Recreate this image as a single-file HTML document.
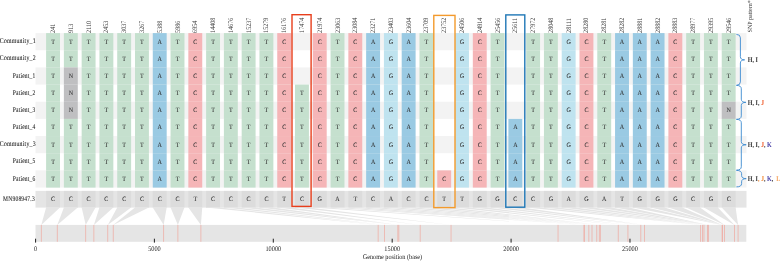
<!DOCTYPE html><html><head><meta charset="utf-8"><style>html,body{margin:0;padding:0;background:#fff;width:780px;height:261px;overflow:hidden}svg{display:block;will-change:transform}text{font-family:"Liberation Serif",serif;text-rendering:geometricPrecision}</style></head><body><svg width="780" height="261" viewBox="0 0 780 261" font-family="Liberation Serif, serif">
<rect x="0" y="0" width="780" height="261" fill="#ffffff"/>
<rect x="35.5" y="33.10" width="711.00" height="17.16" fill="#f3f3f3"/>
<rect x="35.5" y="67.42" width="711.00" height="17.16" fill="#f3f3f3"/>
<rect x="35.5" y="101.74" width="711.00" height="17.16" fill="#f3f3f3"/>
<rect x="35.5" y="136.06" width="711.00" height="17.16" fill="#f3f3f3"/>
<rect x="35.5" y="170.38" width="711.00" height="17.16" fill="#f3f3f3"/>
<rect x="46.10" y="33.10" width="13.9" height="17.21" fill="#c5e0ce"/>
<rect x="46.10" y="50.26" width="13.9" height="17.21" fill="#c5e0ce"/>
<rect x="46.10" y="67.42" width="13.9" height="17.21" fill="#c5e0ce"/>
<rect x="46.10" y="84.58" width="13.9" height="17.21" fill="#c5e0ce"/>
<rect x="46.10" y="101.74" width="13.9" height="17.21" fill="#c5e0ce"/>
<rect x="46.10" y="118.90" width="13.9" height="17.21" fill="#c5e0ce"/>
<rect x="46.10" y="136.06" width="13.9" height="17.21" fill="#c5e0ce"/>
<rect x="46.10" y="153.22" width="13.9" height="17.21" fill="#c5e0ce"/>
<rect x="46.10" y="170.38" width="13.9" height="17.21" fill="#c5e0ce"/>
<rect x="63.88" y="33.10" width="13.9" height="17.21" fill="#c5e0ce"/>
<rect x="63.88" y="50.26" width="13.9" height="17.21" fill="#c5e0ce"/>
<rect x="63.88" y="67.42" width="13.9" height="17.21" fill="#bfbfc1"/>
<rect x="63.88" y="84.58" width="13.9" height="17.21" fill="#bfbfc1"/>
<rect x="63.88" y="101.74" width="13.9" height="17.21" fill="#bfbfc1"/>
<rect x="63.88" y="118.90" width="13.9" height="17.21" fill="#c5e0ce"/>
<rect x="63.88" y="136.06" width="13.9" height="17.21" fill="#c5e0ce"/>
<rect x="63.88" y="153.22" width="13.9" height="17.21" fill="#c5e0ce"/>
<rect x="63.88" y="170.38" width="13.9" height="17.21" fill="#c5e0ce"/>
<rect x="81.66" y="33.10" width="13.9" height="17.21" fill="#c5e0ce"/>
<rect x="81.66" y="50.26" width="13.9" height="17.21" fill="#c5e0ce"/>
<rect x="81.66" y="67.42" width="13.9" height="17.21" fill="#c5e0ce"/>
<rect x="81.66" y="84.58" width="13.9" height="17.21" fill="#c5e0ce"/>
<rect x="81.66" y="101.74" width="13.9" height="17.21" fill="#c5e0ce"/>
<rect x="81.66" y="118.90" width="13.9" height="17.21" fill="#c5e0ce"/>
<rect x="81.66" y="136.06" width="13.9" height="17.21" fill="#c5e0ce"/>
<rect x="81.66" y="153.22" width="13.9" height="17.21" fill="#c5e0ce"/>
<rect x="81.66" y="170.38" width="13.9" height="17.21" fill="#c5e0ce"/>
<rect x="99.44" y="33.10" width="13.9" height="17.21" fill="#c5e0ce"/>
<rect x="99.44" y="50.26" width="13.9" height="17.21" fill="#c5e0ce"/>
<rect x="99.44" y="67.42" width="13.9" height="17.21" fill="#c5e0ce"/>
<rect x="99.44" y="84.58" width="13.9" height="17.21" fill="#c5e0ce"/>
<rect x="99.44" y="101.74" width="13.9" height="17.21" fill="#c5e0ce"/>
<rect x="99.44" y="118.90" width="13.9" height="17.21" fill="#c5e0ce"/>
<rect x="99.44" y="136.06" width="13.9" height="17.21" fill="#c5e0ce"/>
<rect x="99.44" y="153.22" width="13.9" height="17.21" fill="#c5e0ce"/>
<rect x="99.44" y="170.38" width="13.9" height="17.21" fill="#c5e0ce"/>
<rect x="117.22" y="33.10" width="13.9" height="17.21" fill="#c5e0ce"/>
<rect x="117.22" y="50.26" width="13.9" height="17.21" fill="#c5e0ce"/>
<rect x="117.22" y="67.42" width="13.9" height="17.21" fill="#c5e0ce"/>
<rect x="117.22" y="84.58" width="13.9" height="17.21" fill="#c5e0ce"/>
<rect x="117.22" y="101.74" width="13.9" height="17.21" fill="#c5e0ce"/>
<rect x="117.22" y="118.90" width="13.9" height="17.21" fill="#c5e0ce"/>
<rect x="117.22" y="136.06" width="13.9" height="17.21" fill="#c5e0ce"/>
<rect x="117.22" y="153.22" width="13.9" height="17.21" fill="#c5e0ce"/>
<rect x="117.22" y="170.38" width="13.9" height="17.21" fill="#c5e0ce"/>
<rect x="135.00" y="33.10" width="13.9" height="17.21" fill="#c5e0ce"/>
<rect x="135.00" y="50.26" width="13.9" height="17.21" fill="#c5e0ce"/>
<rect x="135.00" y="67.42" width="13.9" height="17.21" fill="#c5e0ce"/>
<rect x="135.00" y="84.58" width="13.9" height="17.21" fill="#c5e0ce"/>
<rect x="135.00" y="101.74" width="13.9" height="17.21" fill="#c5e0ce"/>
<rect x="135.00" y="118.90" width="13.9" height="17.21" fill="#c5e0ce"/>
<rect x="135.00" y="136.06" width="13.9" height="17.21" fill="#c5e0ce"/>
<rect x="135.00" y="153.22" width="13.9" height="17.21" fill="#c5e0ce"/>
<rect x="135.00" y="170.38" width="13.9" height="17.21" fill="#c5e0ce"/>
<rect x="152.78" y="33.10" width="13.9" height="17.21" fill="#9acae3"/>
<rect x="152.78" y="50.26" width="13.9" height="17.21" fill="#9acae3"/>
<rect x="152.78" y="67.42" width="13.9" height="17.21" fill="#9acae3"/>
<rect x="152.78" y="84.58" width="13.9" height="17.21" fill="#9acae3"/>
<rect x="152.78" y="101.74" width="13.9" height="17.21" fill="#9acae3"/>
<rect x="152.78" y="118.90" width="13.9" height="17.21" fill="#9acae3"/>
<rect x="152.78" y="136.06" width="13.9" height="17.21" fill="#9acae3"/>
<rect x="152.78" y="153.22" width="13.9" height="17.21" fill="#9acae3"/>
<rect x="152.78" y="170.38" width="13.9" height="17.21" fill="#9acae3"/>
<rect x="170.56" y="33.10" width="13.9" height="17.21" fill="#c5e0ce"/>
<rect x="170.56" y="50.26" width="13.9" height="17.21" fill="#c5e0ce"/>
<rect x="170.56" y="67.42" width="13.9" height="17.21" fill="#c5e0ce"/>
<rect x="170.56" y="84.58" width="13.9" height="17.21" fill="#c5e0ce"/>
<rect x="170.56" y="101.74" width="13.9" height="17.21" fill="#c5e0ce"/>
<rect x="170.56" y="118.90" width="13.9" height="17.21" fill="#c5e0ce"/>
<rect x="170.56" y="136.06" width="13.9" height="17.21" fill="#c5e0ce"/>
<rect x="170.56" y="153.22" width="13.9" height="17.21" fill="#c5e0ce"/>
<rect x="170.56" y="170.38" width="13.9" height="17.21" fill="#c5e0ce"/>
<rect x="188.34" y="33.10" width="13.9" height="17.21" fill="#f5b5b7"/>
<rect x="188.34" y="50.26" width="13.9" height="17.21" fill="#f5b5b7"/>
<rect x="188.34" y="67.42" width="13.9" height="17.21" fill="#f5b5b7"/>
<rect x="188.34" y="84.58" width="13.9" height="17.21" fill="#f5b5b7"/>
<rect x="188.34" y="101.74" width="13.9" height="17.21" fill="#f5b5b7"/>
<rect x="188.34" y="118.90" width="13.9" height="17.21" fill="#f5b5b7"/>
<rect x="188.34" y="136.06" width="13.9" height="17.21" fill="#f5b5b7"/>
<rect x="188.34" y="153.22" width="13.9" height="17.21" fill="#f5b5b7"/>
<rect x="188.34" y="170.38" width="13.9" height="17.21" fill="#f5b5b7"/>
<rect x="206.12" y="33.10" width="13.9" height="17.21" fill="#c5e0ce"/>
<rect x="206.12" y="50.26" width="13.9" height="17.21" fill="#c5e0ce"/>
<rect x="206.12" y="67.42" width="13.9" height="17.21" fill="#c5e0ce"/>
<rect x="206.12" y="84.58" width="13.9" height="17.21" fill="#c5e0ce"/>
<rect x="206.12" y="101.74" width="13.9" height="17.21" fill="#c5e0ce"/>
<rect x="206.12" y="118.90" width="13.9" height="17.21" fill="#c5e0ce"/>
<rect x="206.12" y="136.06" width="13.9" height="17.21" fill="#c5e0ce"/>
<rect x="206.12" y="153.22" width="13.9" height="17.21" fill="#c5e0ce"/>
<rect x="206.12" y="170.38" width="13.9" height="17.21" fill="#c5e0ce"/>
<rect x="223.90" y="33.10" width="13.9" height="17.21" fill="#c5e0ce"/>
<rect x="223.90" y="50.26" width="13.9" height="17.21" fill="#c5e0ce"/>
<rect x="223.90" y="67.42" width="13.9" height="17.21" fill="#c5e0ce"/>
<rect x="223.90" y="84.58" width="13.9" height="17.21" fill="#c5e0ce"/>
<rect x="223.90" y="101.74" width="13.9" height="17.21" fill="#c5e0ce"/>
<rect x="223.90" y="118.90" width="13.9" height="17.21" fill="#c5e0ce"/>
<rect x="223.90" y="136.06" width="13.9" height="17.21" fill="#c5e0ce"/>
<rect x="223.90" y="153.22" width="13.9" height="17.21" fill="#c5e0ce"/>
<rect x="223.90" y="170.38" width="13.9" height="17.21" fill="#c5e0ce"/>
<rect x="241.68" y="33.10" width="13.9" height="17.21" fill="#c5e0ce"/>
<rect x="241.68" y="50.26" width="13.9" height="17.21" fill="#c5e0ce"/>
<rect x="241.68" y="67.42" width="13.9" height="17.21" fill="#c5e0ce"/>
<rect x="241.68" y="84.58" width="13.9" height="17.21" fill="#c5e0ce"/>
<rect x="241.68" y="101.74" width="13.9" height="17.21" fill="#c5e0ce"/>
<rect x="241.68" y="118.90" width="13.9" height="17.21" fill="#c5e0ce"/>
<rect x="241.68" y="136.06" width="13.9" height="17.21" fill="#c5e0ce"/>
<rect x="241.68" y="153.22" width="13.9" height="17.21" fill="#c5e0ce"/>
<rect x="241.68" y="170.38" width="13.9" height="17.21" fill="#c5e0ce"/>
<rect x="259.46" y="33.10" width="13.9" height="17.21" fill="#c5e0ce"/>
<rect x="259.46" y="50.26" width="13.9" height="17.21" fill="#c5e0ce"/>
<rect x="259.46" y="67.42" width="13.9" height="17.21" fill="#c5e0ce"/>
<rect x="259.46" y="84.58" width="13.9" height="17.21" fill="#c5e0ce"/>
<rect x="259.46" y="101.74" width="13.9" height="17.21" fill="#c5e0ce"/>
<rect x="259.46" y="118.90" width="13.9" height="17.21" fill="#c5e0ce"/>
<rect x="259.46" y="136.06" width="13.9" height="17.21" fill="#c5e0ce"/>
<rect x="259.46" y="153.22" width="13.9" height="17.21" fill="#c5e0ce"/>
<rect x="259.46" y="170.38" width="13.9" height="17.21" fill="#c5e0ce"/>
<rect x="277.24" y="33.10" width="13.9" height="17.21" fill="#f5b5b7"/>
<rect x="277.24" y="50.26" width="13.9" height="17.21" fill="#f5b5b7"/>
<rect x="277.24" y="67.42" width="13.9" height="17.21" fill="#f5b5b7"/>
<rect x="277.24" y="84.58" width="13.9" height="17.21" fill="#f5b5b7"/>
<rect x="277.24" y="101.74" width="13.9" height="17.21" fill="#f5b5b7"/>
<rect x="277.24" y="118.90" width="13.9" height="17.21" fill="#f5b5b7"/>
<rect x="277.24" y="136.06" width="13.9" height="17.21" fill="#f5b5b7"/>
<rect x="277.24" y="153.22" width="13.9" height="17.21" fill="#f5b5b7"/>
<rect x="277.24" y="170.38" width="13.9" height="17.21" fill="#f5b5b7"/>
<rect x="295.02" y="84.58" width="13.9" height="17.21" fill="#c5e0ce"/>
<rect x="295.02" y="101.74" width="13.9" height="17.21" fill="#c5e0ce"/>
<rect x="295.02" y="118.90" width="13.9" height="17.21" fill="#c5e0ce"/>
<rect x="295.02" y="136.06" width="13.9" height="17.21" fill="#c5e0ce"/>
<rect x="295.02" y="153.22" width="13.9" height="17.21" fill="#c5e0ce"/>
<rect x="295.02" y="170.38" width="13.9" height="17.21" fill="#c5e0ce"/>
<rect x="312.80" y="33.10" width="13.9" height="17.21" fill="#f5b5b7"/>
<rect x="312.80" y="50.26" width="13.9" height="17.21" fill="#f5b5b7"/>
<rect x="312.80" y="67.42" width="13.9" height="17.21" fill="#f5b5b7"/>
<rect x="312.80" y="84.58" width="13.9" height="17.21" fill="#f5b5b7"/>
<rect x="312.80" y="101.74" width="13.9" height="17.21" fill="#f5b5b7"/>
<rect x="312.80" y="118.90" width="13.9" height="17.21" fill="#f5b5b7"/>
<rect x="312.80" y="136.06" width="13.9" height="17.21" fill="#f5b5b7"/>
<rect x="312.80" y="153.22" width="13.9" height="17.21" fill="#f5b5b7"/>
<rect x="312.80" y="170.38" width="13.9" height="17.21" fill="#f5b5b7"/>
<rect x="330.58" y="33.10" width="13.9" height="17.21" fill="#c5e0ce"/>
<rect x="330.58" y="50.26" width="13.9" height="17.21" fill="#c5e0ce"/>
<rect x="330.58" y="67.42" width="13.9" height="17.21" fill="#c5e0ce"/>
<rect x="330.58" y="84.58" width="13.9" height="17.21" fill="#c5e0ce"/>
<rect x="330.58" y="101.74" width="13.9" height="17.21" fill="#c5e0ce"/>
<rect x="330.58" y="118.90" width="13.9" height="17.21" fill="#c5e0ce"/>
<rect x="330.58" y="136.06" width="13.9" height="17.21" fill="#c5e0ce"/>
<rect x="330.58" y="153.22" width="13.9" height="17.21" fill="#c5e0ce"/>
<rect x="330.58" y="170.38" width="13.9" height="17.21" fill="#c5e0ce"/>
<rect x="348.36" y="33.10" width="13.9" height="17.21" fill="#f5b5b7"/>
<rect x="348.36" y="50.26" width="13.9" height="17.21" fill="#f5b5b7"/>
<rect x="348.36" y="67.42" width="13.9" height="17.21" fill="#f5b5b7"/>
<rect x="348.36" y="84.58" width="13.9" height="17.21" fill="#f5b5b7"/>
<rect x="348.36" y="101.74" width="13.9" height="17.21" fill="#f5b5b7"/>
<rect x="348.36" y="118.90" width="13.9" height="17.21" fill="#f5b5b7"/>
<rect x="348.36" y="136.06" width="13.9" height="17.21" fill="#f5b5b7"/>
<rect x="348.36" y="153.22" width="13.9" height="17.21" fill="#f5b5b7"/>
<rect x="348.36" y="170.38" width="13.9" height="17.21" fill="#f5b5b7"/>
<rect x="366.14" y="33.10" width="13.9" height="17.21" fill="#9acae3"/>
<rect x="366.14" y="50.26" width="13.9" height="17.21" fill="#9acae3"/>
<rect x="366.14" y="67.42" width="13.9" height="17.21" fill="#9acae3"/>
<rect x="366.14" y="84.58" width="13.9" height="17.21" fill="#9acae3"/>
<rect x="366.14" y="101.74" width="13.9" height="17.21" fill="#9acae3"/>
<rect x="366.14" y="118.90" width="13.9" height="17.21" fill="#9acae3"/>
<rect x="366.14" y="136.06" width="13.9" height="17.21" fill="#9acae3"/>
<rect x="366.14" y="153.22" width="13.9" height="17.21" fill="#9acae3"/>
<rect x="366.14" y="170.38" width="13.9" height="17.21" fill="#9acae3"/>
<rect x="383.92" y="33.10" width="13.9" height="17.21" fill="#bfe3ef"/>
<rect x="383.92" y="50.26" width="13.9" height="17.21" fill="#bfe3ef"/>
<rect x="383.92" y="67.42" width="13.9" height="17.21" fill="#bfe3ef"/>
<rect x="383.92" y="84.58" width="13.9" height="17.21" fill="#bfe3ef"/>
<rect x="383.92" y="101.74" width="13.9" height="17.21" fill="#bfe3ef"/>
<rect x="383.92" y="118.90" width="13.9" height="17.21" fill="#bfe3ef"/>
<rect x="383.92" y="136.06" width="13.9" height="17.21" fill="#bfe3ef"/>
<rect x="383.92" y="153.22" width="13.9" height="17.21" fill="#bfe3ef"/>
<rect x="383.92" y="170.38" width="13.9" height="17.21" fill="#bfe3ef"/>
<rect x="401.70" y="33.10" width="13.9" height="17.21" fill="#9acae3"/>
<rect x="401.70" y="50.26" width="13.9" height="17.21" fill="#9acae3"/>
<rect x="401.70" y="67.42" width="13.9" height="17.21" fill="#9acae3"/>
<rect x="401.70" y="84.58" width="13.9" height="17.21" fill="#9acae3"/>
<rect x="401.70" y="101.74" width="13.9" height="17.21" fill="#9acae3"/>
<rect x="401.70" y="118.90" width="13.9" height="17.21" fill="#9acae3"/>
<rect x="401.70" y="136.06" width="13.9" height="17.21" fill="#9acae3"/>
<rect x="401.70" y="153.22" width="13.9" height="17.21" fill="#9acae3"/>
<rect x="401.70" y="170.38" width="13.9" height="17.21" fill="#9acae3"/>
<rect x="419.48" y="33.10" width="13.9" height="17.21" fill="#c5e0ce"/>
<rect x="419.48" y="50.26" width="13.9" height="17.21" fill="#c5e0ce"/>
<rect x="419.48" y="67.42" width="13.9" height="17.21" fill="#c5e0ce"/>
<rect x="419.48" y="84.58" width="13.9" height="17.21" fill="#c5e0ce"/>
<rect x="419.48" y="101.74" width="13.9" height="17.21" fill="#c5e0ce"/>
<rect x="419.48" y="118.90" width="13.9" height="17.21" fill="#c5e0ce"/>
<rect x="419.48" y="136.06" width="13.9" height="17.21" fill="#c5e0ce"/>
<rect x="419.48" y="153.22" width="13.9" height="17.21" fill="#c5e0ce"/>
<rect x="419.48" y="170.38" width="13.9" height="17.21" fill="#c5e0ce"/>
<rect x="437.26" y="170.38" width="13.9" height="17.21" fill="#f5b5b7"/>
<rect x="455.04" y="33.10" width="13.9" height="17.21" fill="#bfe3ef"/>
<rect x="455.04" y="50.26" width="13.9" height="17.21" fill="#bfe3ef"/>
<rect x="455.04" y="67.42" width="13.9" height="17.21" fill="#bfe3ef"/>
<rect x="455.04" y="84.58" width="13.9" height="17.21" fill="#bfe3ef"/>
<rect x="455.04" y="101.74" width="13.9" height="17.21" fill="#bfe3ef"/>
<rect x="455.04" y="118.90" width="13.9" height="17.21" fill="#bfe3ef"/>
<rect x="455.04" y="136.06" width="13.9" height="17.21" fill="#bfe3ef"/>
<rect x="455.04" y="153.22" width="13.9" height="17.21" fill="#bfe3ef"/>
<rect x="455.04" y="170.38" width="13.9" height="17.21" fill="#bfe3ef"/>
<rect x="472.82" y="33.10" width="13.9" height="17.21" fill="#f5b5b7"/>
<rect x="472.82" y="50.26" width="13.9" height="17.21" fill="#f5b5b7"/>
<rect x="472.82" y="67.42" width="13.9" height="17.21" fill="#f5b5b7"/>
<rect x="472.82" y="84.58" width="13.9" height="17.21" fill="#f5b5b7"/>
<rect x="472.82" y="101.74" width="13.9" height="17.21" fill="#f5b5b7"/>
<rect x="472.82" y="118.90" width="13.9" height="17.21" fill="#f5b5b7"/>
<rect x="472.82" y="136.06" width="13.9" height="17.21" fill="#f5b5b7"/>
<rect x="472.82" y="153.22" width="13.9" height="17.21" fill="#f5b5b7"/>
<rect x="472.82" y="170.38" width="13.9" height="17.21" fill="#f5b5b7"/>
<rect x="490.60" y="33.10" width="13.9" height="17.21" fill="#c5e0ce"/>
<rect x="490.60" y="50.26" width="13.9" height="17.21" fill="#c5e0ce"/>
<rect x="490.60" y="67.42" width="13.9" height="17.21" fill="#c5e0ce"/>
<rect x="490.60" y="84.58" width="13.9" height="17.21" fill="#c5e0ce"/>
<rect x="490.60" y="101.74" width="13.9" height="17.21" fill="#c5e0ce"/>
<rect x="490.60" y="118.90" width="13.9" height="17.21" fill="#c5e0ce"/>
<rect x="490.60" y="136.06" width="13.9" height="17.21" fill="#c5e0ce"/>
<rect x="490.60" y="153.22" width="13.9" height="17.21" fill="#c5e0ce"/>
<rect x="490.60" y="170.38" width="13.9" height="17.21" fill="#c5e0ce"/>
<rect x="508.38" y="118.90" width="13.9" height="17.21" fill="#9acae3"/>
<rect x="508.38" y="136.06" width="13.9" height="17.21" fill="#9acae3"/>
<rect x="508.38" y="153.22" width="13.9" height="17.21" fill="#9acae3"/>
<rect x="508.38" y="170.38" width="13.9" height="17.21" fill="#9acae3"/>
<rect x="526.16" y="33.10" width="13.9" height="17.21" fill="#c5e0ce"/>
<rect x="526.16" y="50.26" width="13.9" height="17.21" fill="#c5e0ce"/>
<rect x="526.16" y="67.42" width="13.9" height="17.21" fill="#c5e0ce"/>
<rect x="526.16" y="84.58" width="13.9" height="17.21" fill="#c5e0ce"/>
<rect x="526.16" y="101.74" width="13.9" height="17.21" fill="#c5e0ce"/>
<rect x="526.16" y="118.90" width="13.9" height="17.21" fill="#c5e0ce"/>
<rect x="526.16" y="136.06" width="13.9" height="17.21" fill="#c5e0ce"/>
<rect x="526.16" y="153.22" width="13.9" height="17.21" fill="#c5e0ce"/>
<rect x="526.16" y="170.38" width="13.9" height="17.21" fill="#c5e0ce"/>
<rect x="543.94" y="33.10" width="13.9" height="17.21" fill="#c5e0ce"/>
<rect x="543.94" y="50.26" width="13.9" height="17.21" fill="#c5e0ce"/>
<rect x="543.94" y="67.42" width="13.9" height="17.21" fill="#c5e0ce"/>
<rect x="543.94" y="84.58" width="13.9" height="17.21" fill="#c5e0ce"/>
<rect x="543.94" y="101.74" width="13.9" height="17.21" fill="#c5e0ce"/>
<rect x="543.94" y="118.90" width="13.9" height="17.21" fill="#c5e0ce"/>
<rect x="543.94" y="136.06" width="13.9" height="17.21" fill="#c5e0ce"/>
<rect x="543.94" y="153.22" width="13.9" height="17.21" fill="#c5e0ce"/>
<rect x="543.94" y="170.38" width="13.9" height="17.21" fill="#c5e0ce"/>
<rect x="561.72" y="33.10" width="13.9" height="17.21" fill="#bfe3ef"/>
<rect x="561.72" y="50.26" width="13.9" height="17.21" fill="#bfe3ef"/>
<rect x="561.72" y="67.42" width="13.9" height="17.21" fill="#bfe3ef"/>
<rect x="561.72" y="84.58" width="13.9" height="17.21" fill="#bfe3ef"/>
<rect x="561.72" y="101.74" width="13.9" height="17.21" fill="#bfe3ef"/>
<rect x="561.72" y="118.90" width="13.9" height="17.21" fill="#bfe3ef"/>
<rect x="561.72" y="136.06" width="13.9" height="17.21" fill="#bfe3ef"/>
<rect x="561.72" y="153.22" width="13.9" height="17.21" fill="#bfe3ef"/>
<rect x="561.72" y="170.38" width="13.9" height="17.21" fill="#bfe3ef"/>
<rect x="579.50" y="33.10" width="13.9" height="17.21" fill="#f5b5b7"/>
<rect x="579.50" y="50.26" width="13.9" height="17.21" fill="#f5b5b7"/>
<rect x="579.50" y="67.42" width="13.9" height="17.21" fill="#f5b5b7"/>
<rect x="579.50" y="84.58" width="13.9" height="17.21" fill="#f5b5b7"/>
<rect x="579.50" y="101.74" width="13.9" height="17.21" fill="#f5b5b7"/>
<rect x="579.50" y="118.90" width="13.9" height="17.21" fill="#f5b5b7"/>
<rect x="579.50" y="136.06" width="13.9" height="17.21" fill="#f5b5b7"/>
<rect x="579.50" y="153.22" width="13.9" height="17.21" fill="#f5b5b7"/>
<rect x="579.50" y="170.38" width="13.9" height="17.21" fill="#f5b5b7"/>
<rect x="597.28" y="33.10" width="13.9" height="17.21" fill="#c5e0ce"/>
<rect x="597.28" y="50.26" width="13.9" height="17.21" fill="#c5e0ce"/>
<rect x="597.28" y="67.42" width="13.9" height="17.21" fill="#c5e0ce"/>
<rect x="597.28" y="84.58" width="13.9" height="17.21" fill="#c5e0ce"/>
<rect x="597.28" y="101.74" width="13.9" height="17.21" fill="#c5e0ce"/>
<rect x="597.28" y="118.90" width="13.9" height="17.21" fill="#c5e0ce"/>
<rect x="597.28" y="136.06" width="13.9" height="17.21" fill="#c5e0ce"/>
<rect x="597.28" y="153.22" width="13.9" height="17.21" fill="#c5e0ce"/>
<rect x="597.28" y="170.38" width="13.9" height="17.21" fill="#c5e0ce"/>
<rect x="615.06" y="33.10" width="13.9" height="17.21" fill="#9acae3"/>
<rect x="615.06" y="50.26" width="13.9" height="17.21" fill="#9acae3"/>
<rect x="615.06" y="67.42" width="13.9" height="17.21" fill="#9acae3"/>
<rect x="615.06" y="84.58" width="13.9" height="17.21" fill="#9acae3"/>
<rect x="615.06" y="101.74" width="13.9" height="17.21" fill="#9acae3"/>
<rect x="615.06" y="118.90" width="13.9" height="17.21" fill="#9acae3"/>
<rect x="615.06" y="136.06" width="13.9" height="17.21" fill="#9acae3"/>
<rect x="615.06" y="153.22" width="13.9" height="17.21" fill="#9acae3"/>
<rect x="615.06" y="170.38" width="13.9" height="17.21" fill="#9acae3"/>
<rect x="632.84" y="33.10" width="13.9" height="17.21" fill="#9acae3"/>
<rect x="632.84" y="50.26" width="13.9" height="17.21" fill="#9acae3"/>
<rect x="632.84" y="67.42" width="13.9" height="17.21" fill="#9acae3"/>
<rect x="632.84" y="84.58" width="13.9" height="17.21" fill="#9acae3"/>
<rect x="632.84" y="101.74" width="13.9" height="17.21" fill="#9acae3"/>
<rect x="632.84" y="118.90" width="13.9" height="17.21" fill="#9acae3"/>
<rect x="632.84" y="136.06" width="13.9" height="17.21" fill="#9acae3"/>
<rect x="632.84" y="153.22" width="13.9" height="17.21" fill="#9acae3"/>
<rect x="632.84" y="170.38" width="13.9" height="17.21" fill="#9acae3"/>
<rect x="650.62" y="33.10" width="13.9" height="17.21" fill="#9acae3"/>
<rect x="650.62" y="50.26" width="13.9" height="17.21" fill="#9acae3"/>
<rect x="650.62" y="67.42" width="13.9" height="17.21" fill="#9acae3"/>
<rect x="650.62" y="84.58" width="13.9" height="17.21" fill="#9acae3"/>
<rect x="650.62" y="101.74" width="13.9" height="17.21" fill="#9acae3"/>
<rect x="650.62" y="118.90" width="13.9" height="17.21" fill="#9acae3"/>
<rect x="650.62" y="136.06" width="13.9" height="17.21" fill="#9acae3"/>
<rect x="650.62" y="153.22" width="13.9" height="17.21" fill="#9acae3"/>
<rect x="650.62" y="170.38" width="13.9" height="17.21" fill="#9acae3"/>
<rect x="668.40" y="33.10" width="13.9" height="17.21" fill="#f5b5b7"/>
<rect x="668.40" y="50.26" width="13.9" height="17.21" fill="#f5b5b7"/>
<rect x="668.40" y="67.42" width="13.9" height="17.21" fill="#f5b5b7"/>
<rect x="668.40" y="84.58" width="13.9" height="17.21" fill="#f5b5b7"/>
<rect x="668.40" y="101.74" width="13.9" height="17.21" fill="#f5b5b7"/>
<rect x="668.40" y="118.90" width="13.9" height="17.21" fill="#f5b5b7"/>
<rect x="668.40" y="136.06" width="13.9" height="17.21" fill="#f5b5b7"/>
<rect x="668.40" y="153.22" width="13.9" height="17.21" fill="#f5b5b7"/>
<rect x="668.40" y="170.38" width="13.9" height="17.21" fill="#f5b5b7"/>
<rect x="686.18" y="33.10" width="13.9" height="17.21" fill="#c5e0ce"/>
<rect x="686.18" y="50.26" width="13.9" height="17.21" fill="#c5e0ce"/>
<rect x="686.18" y="67.42" width="13.9" height="17.21" fill="#c5e0ce"/>
<rect x="686.18" y="84.58" width="13.9" height="17.21" fill="#c5e0ce"/>
<rect x="686.18" y="101.74" width="13.9" height="17.21" fill="#c5e0ce"/>
<rect x="686.18" y="118.90" width="13.9" height="17.21" fill="#c5e0ce"/>
<rect x="686.18" y="136.06" width="13.9" height="17.21" fill="#c5e0ce"/>
<rect x="686.18" y="153.22" width="13.9" height="17.21" fill="#c5e0ce"/>
<rect x="686.18" y="170.38" width="13.9" height="17.21" fill="#c5e0ce"/>
<rect x="703.96" y="33.10" width="13.9" height="17.21" fill="#c5e0ce"/>
<rect x="703.96" y="50.26" width="13.9" height="17.21" fill="#c5e0ce"/>
<rect x="703.96" y="67.42" width="13.9" height="17.21" fill="#c5e0ce"/>
<rect x="703.96" y="84.58" width="13.9" height="17.21" fill="#c5e0ce"/>
<rect x="703.96" y="101.74" width="13.9" height="17.21" fill="#c5e0ce"/>
<rect x="703.96" y="118.90" width="13.9" height="17.21" fill="#c5e0ce"/>
<rect x="703.96" y="136.06" width="13.9" height="17.21" fill="#c5e0ce"/>
<rect x="703.96" y="153.22" width="13.9" height="17.21" fill="#c5e0ce"/>
<rect x="703.96" y="170.38" width="13.9" height="17.21" fill="#c5e0ce"/>
<rect x="721.74" y="33.10" width="13.9" height="17.21" fill="#c5e0ce"/>
<rect x="721.74" y="50.26" width="13.9" height="17.21" fill="#c5e0ce"/>
<rect x="721.74" y="67.42" width="13.9" height="17.21" fill="#c5e0ce"/>
<rect x="721.74" y="84.58" width="13.9" height="17.21" fill="#c5e0ce"/>
<rect x="721.74" y="101.74" width="13.9" height="17.21" fill="#bfbfc1"/>
<rect x="721.74" y="118.90" width="13.9" height="17.21" fill="#c5e0ce"/>
<rect x="721.74" y="136.06" width="13.9" height="17.21" fill="#c5e0ce"/>
<rect x="721.74" y="153.22" width="13.9" height="17.21" fill="#c5e0ce"/>
<rect x="721.74" y="170.38" width="13.9" height="17.21" fill="#c5e0ce"/>
<text transform="translate(53.05,43.58) scale(0.92,1)" font-size="6.6" fill="#303030" text-anchor="middle" stroke="#303030" stroke-width="0.06">T</text>
<text transform="translate(53.05,60.74) scale(0.92,1)" font-size="6.6" fill="#303030" text-anchor="middle" stroke="#303030" stroke-width="0.06">T</text>
<text transform="translate(53.05,77.90) scale(0.92,1)" font-size="6.6" fill="#303030" text-anchor="middle" stroke="#303030" stroke-width="0.06">T</text>
<text transform="translate(53.05,95.06) scale(0.92,1)" font-size="6.6" fill="#303030" text-anchor="middle" stroke="#303030" stroke-width="0.06">T</text>
<text transform="translate(53.05,112.22) scale(0.92,1)" font-size="6.6" fill="#303030" text-anchor="middle" stroke="#303030" stroke-width="0.06">T</text>
<text transform="translate(53.05,129.38) scale(0.92,1)" font-size="6.6" fill="#303030" text-anchor="middle" stroke="#303030" stroke-width="0.06">T</text>
<text transform="translate(53.05,146.54) scale(0.92,1)" font-size="6.6" fill="#303030" text-anchor="middle" stroke="#303030" stroke-width="0.06">T</text>
<text transform="translate(53.05,163.70) scale(0.92,1)" font-size="6.6" fill="#303030" text-anchor="middle" stroke="#303030" stroke-width="0.06">T</text>
<text transform="translate(53.05,180.86) scale(0.92,1)" font-size="6.6" fill="#303030" text-anchor="middle" stroke="#303030" stroke-width="0.06">T</text>
<text transform="translate(70.83,43.58) scale(0.92,1)" font-size="6.6" fill="#303030" text-anchor="middle" stroke="#303030" stroke-width="0.06">T</text>
<text transform="translate(70.83,60.74) scale(0.92,1)" font-size="6.6" fill="#303030" text-anchor="middle" stroke="#303030" stroke-width="0.06">T</text>
<text transform="translate(70.83,77.90) scale(0.92,1)" font-size="6.6" fill="#303030" text-anchor="middle" stroke="#303030" stroke-width="0.06">N</text>
<text transform="translate(70.83,95.06) scale(0.92,1)" font-size="6.6" fill="#303030" text-anchor="middle" stroke="#303030" stroke-width="0.06">N</text>
<text transform="translate(70.83,112.22) scale(0.92,1)" font-size="6.6" fill="#303030" text-anchor="middle" stroke="#303030" stroke-width="0.06">N</text>
<text transform="translate(70.83,129.38) scale(0.92,1)" font-size="6.6" fill="#303030" text-anchor="middle" stroke="#303030" stroke-width="0.06">T</text>
<text transform="translate(70.83,146.54) scale(0.92,1)" font-size="6.6" fill="#303030" text-anchor="middle" stroke="#303030" stroke-width="0.06">T</text>
<text transform="translate(70.83,163.70) scale(0.92,1)" font-size="6.6" fill="#303030" text-anchor="middle" stroke="#303030" stroke-width="0.06">T</text>
<text transform="translate(70.83,180.86) scale(0.92,1)" font-size="6.6" fill="#303030" text-anchor="middle" stroke="#303030" stroke-width="0.06">T</text>
<text transform="translate(88.61,43.58) scale(0.92,1)" font-size="6.6" fill="#303030" text-anchor="middle" stroke="#303030" stroke-width="0.06">T</text>
<text transform="translate(88.61,60.74) scale(0.92,1)" font-size="6.6" fill="#303030" text-anchor="middle" stroke="#303030" stroke-width="0.06">T</text>
<text transform="translate(88.61,77.90) scale(0.92,1)" font-size="6.6" fill="#303030" text-anchor="middle" stroke="#303030" stroke-width="0.06">T</text>
<text transform="translate(88.61,95.06) scale(0.92,1)" font-size="6.6" fill="#303030" text-anchor="middle" stroke="#303030" stroke-width="0.06">T</text>
<text transform="translate(88.61,112.22) scale(0.92,1)" font-size="6.6" fill="#303030" text-anchor="middle" stroke="#303030" stroke-width="0.06">T</text>
<text transform="translate(88.61,129.38) scale(0.92,1)" font-size="6.6" fill="#303030" text-anchor="middle" stroke="#303030" stroke-width="0.06">T</text>
<text transform="translate(88.61,146.54) scale(0.92,1)" font-size="6.6" fill="#303030" text-anchor="middle" stroke="#303030" stroke-width="0.06">T</text>
<text transform="translate(88.61,163.70) scale(0.92,1)" font-size="6.6" fill="#303030" text-anchor="middle" stroke="#303030" stroke-width="0.06">T</text>
<text transform="translate(88.61,180.86) scale(0.92,1)" font-size="6.6" fill="#303030" text-anchor="middle" stroke="#303030" stroke-width="0.06">T</text>
<text transform="translate(106.39,43.58) scale(0.92,1)" font-size="6.6" fill="#303030" text-anchor="middle" stroke="#303030" stroke-width="0.06">T</text>
<text transform="translate(106.39,60.74) scale(0.92,1)" font-size="6.6" fill="#303030" text-anchor="middle" stroke="#303030" stroke-width="0.06">T</text>
<text transform="translate(106.39,77.90) scale(0.92,1)" font-size="6.6" fill="#303030" text-anchor="middle" stroke="#303030" stroke-width="0.06">T</text>
<text transform="translate(106.39,95.06) scale(0.92,1)" font-size="6.6" fill="#303030" text-anchor="middle" stroke="#303030" stroke-width="0.06">T</text>
<text transform="translate(106.39,112.22) scale(0.92,1)" font-size="6.6" fill="#303030" text-anchor="middle" stroke="#303030" stroke-width="0.06">T</text>
<text transform="translate(106.39,129.38) scale(0.92,1)" font-size="6.6" fill="#303030" text-anchor="middle" stroke="#303030" stroke-width="0.06">T</text>
<text transform="translate(106.39,146.54) scale(0.92,1)" font-size="6.6" fill="#303030" text-anchor="middle" stroke="#303030" stroke-width="0.06">T</text>
<text transform="translate(106.39,163.70) scale(0.92,1)" font-size="6.6" fill="#303030" text-anchor="middle" stroke="#303030" stroke-width="0.06">T</text>
<text transform="translate(106.39,180.86) scale(0.92,1)" font-size="6.6" fill="#303030" text-anchor="middle" stroke="#303030" stroke-width="0.06">T</text>
<text transform="translate(124.17,43.58) scale(0.92,1)" font-size="6.6" fill="#303030" text-anchor="middle" stroke="#303030" stroke-width="0.06">T</text>
<text transform="translate(124.17,60.74) scale(0.92,1)" font-size="6.6" fill="#303030" text-anchor="middle" stroke="#303030" stroke-width="0.06">T</text>
<text transform="translate(124.17,77.90) scale(0.92,1)" font-size="6.6" fill="#303030" text-anchor="middle" stroke="#303030" stroke-width="0.06">T</text>
<text transform="translate(124.17,95.06) scale(0.92,1)" font-size="6.6" fill="#303030" text-anchor="middle" stroke="#303030" stroke-width="0.06">T</text>
<text transform="translate(124.17,112.22) scale(0.92,1)" font-size="6.6" fill="#303030" text-anchor="middle" stroke="#303030" stroke-width="0.06">T</text>
<text transform="translate(124.17,129.38) scale(0.92,1)" font-size="6.6" fill="#303030" text-anchor="middle" stroke="#303030" stroke-width="0.06">T</text>
<text transform="translate(124.17,146.54) scale(0.92,1)" font-size="6.6" fill="#303030" text-anchor="middle" stroke="#303030" stroke-width="0.06">T</text>
<text transform="translate(124.17,163.70) scale(0.92,1)" font-size="6.6" fill="#303030" text-anchor="middle" stroke="#303030" stroke-width="0.06">T</text>
<text transform="translate(124.17,180.86) scale(0.92,1)" font-size="6.6" fill="#303030" text-anchor="middle" stroke="#303030" stroke-width="0.06">T</text>
<text transform="translate(141.95,43.58) scale(0.92,1)" font-size="6.6" fill="#303030" text-anchor="middle" stroke="#303030" stroke-width="0.06">T</text>
<text transform="translate(141.95,60.74) scale(0.92,1)" font-size="6.6" fill="#303030" text-anchor="middle" stroke="#303030" stroke-width="0.06">T</text>
<text transform="translate(141.95,77.90) scale(0.92,1)" font-size="6.6" fill="#303030" text-anchor="middle" stroke="#303030" stroke-width="0.06">T</text>
<text transform="translate(141.95,95.06) scale(0.92,1)" font-size="6.6" fill="#303030" text-anchor="middle" stroke="#303030" stroke-width="0.06">T</text>
<text transform="translate(141.95,112.22) scale(0.92,1)" font-size="6.6" fill="#303030" text-anchor="middle" stroke="#303030" stroke-width="0.06">T</text>
<text transform="translate(141.95,129.38) scale(0.92,1)" font-size="6.6" fill="#303030" text-anchor="middle" stroke="#303030" stroke-width="0.06">T</text>
<text transform="translate(141.95,146.54) scale(0.92,1)" font-size="6.6" fill="#303030" text-anchor="middle" stroke="#303030" stroke-width="0.06">T</text>
<text transform="translate(141.95,163.70) scale(0.92,1)" font-size="6.6" fill="#303030" text-anchor="middle" stroke="#303030" stroke-width="0.06">T</text>
<text transform="translate(141.95,180.86) scale(0.92,1)" font-size="6.6" fill="#303030" text-anchor="middle" stroke="#303030" stroke-width="0.06">T</text>
<text transform="translate(159.73,43.58) scale(0.92,1)" font-size="6.6" fill="#303030" text-anchor="middle" stroke="#303030" stroke-width="0.06">A</text>
<text transform="translate(159.73,60.74) scale(0.92,1)" font-size="6.6" fill="#303030" text-anchor="middle" stroke="#303030" stroke-width="0.06">A</text>
<text transform="translate(159.73,77.90) scale(0.92,1)" font-size="6.6" fill="#303030" text-anchor="middle" stroke="#303030" stroke-width="0.06">A</text>
<text transform="translate(159.73,95.06) scale(0.92,1)" font-size="6.6" fill="#303030" text-anchor="middle" stroke="#303030" stroke-width="0.06">A</text>
<text transform="translate(159.73,112.22) scale(0.92,1)" font-size="6.6" fill="#303030" text-anchor="middle" stroke="#303030" stroke-width="0.06">A</text>
<text transform="translate(159.73,129.38) scale(0.92,1)" font-size="6.6" fill="#303030" text-anchor="middle" stroke="#303030" stroke-width="0.06">A</text>
<text transform="translate(159.73,146.54) scale(0.92,1)" font-size="6.6" fill="#303030" text-anchor="middle" stroke="#303030" stroke-width="0.06">A</text>
<text transform="translate(159.73,163.70) scale(0.92,1)" font-size="6.6" fill="#303030" text-anchor="middle" stroke="#303030" stroke-width="0.06">A</text>
<text transform="translate(159.73,180.86) scale(0.92,1)" font-size="6.6" fill="#303030" text-anchor="middle" stroke="#303030" stroke-width="0.06">A</text>
<text transform="translate(177.51,43.58) scale(0.92,1)" font-size="6.6" fill="#303030" text-anchor="middle" stroke="#303030" stroke-width="0.06">T</text>
<text transform="translate(177.51,60.74) scale(0.92,1)" font-size="6.6" fill="#303030" text-anchor="middle" stroke="#303030" stroke-width="0.06">T</text>
<text transform="translate(177.51,77.90) scale(0.92,1)" font-size="6.6" fill="#303030" text-anchor="middle" stroke="#303030" stroke-width="0.06">T</text>
<text transform="translate(177.51,95.06) scale(0.92,1)" font-size="6.6" fill="#303030" text-anchor="middle" stroke="#303030" stroke-width="0.06">T</text>
<text transform="translate(177.51,112.22) scale(0.92,1)" font-size="6.6" fill="#303030" text-anchor="middle" stroke="#303030" stroke-width="0.06">T</text>
<text transform="translate(177.51,129.38) scale(0.92,1)" font-size="6.6" fill="#303030" text-anchor="middle" stroke="#303030" stroke-width="0.06">T</text>
<text transform="translate(177.51,146.54) scale(0.92,1)" font-size="6.6" fill="#303030" text-anchor="middle" stroke="#303030" stroke-width="0.06">T</text>
<text transform="translate(177.51,163.70) scale(0.92,1)" font-size="6.6" fill="#303030" text-anchor="middle" stroke="#303030" stroke-width="0.06">T</text>
<text transform="translate(177.51,180.86) scale(0.92,1)" font-size="6.6" fill="#303030" text-anchor="middle" stroke="#303030" stroke-width="0.06">T</text>
<text transform="translate(195.29,43.58) scale(0.92,1)" font-size="6.6" fill="#303030" text-anchor="middle" stroke="#303030" stroke-width="0.06">C</text>
<text transform="translate(195.29,60.74) scale(0.92,1)" font-size="6.6" fill="#303030" text-anchor="middle" stroke="#303030" stroke-width="0.06">C</text>
<text transform="translate(195.29,77.90) scale(0.92,1)" font-size="6.6" fill="#303030" text-anchor="middle" stroke="#303030" stroke-width="0.06">C</text>
<text transform="translate(195.29,95.06) scale(0.92,1)" font-size="6.6" fill="#303030" text-anchor="middle" stroke="#303030" stroke-width="0.06">C</text>
<text transform="translate(195.29,112.22) scale(0.92,1)" font-size="6.6" fill="#303030" text-anchor="middle" stroke="#303030" stroke-width="0.06">C</text>
<text transform="translate(195.29,129.38) scale(0.92,1)" font-size="6.6" fill="#303030" text-anchor="middle" stroke="#303030" stroke-width="0.06">C</text>
<text transform="translate(195.29,146.54) scale(0.92,1)" font-size="6.6" fill="#303030" text-anchor="middle" stroke="#303030" stroke-width="0.06">C</text>
<text transform="translate(195.29,163.70) scale(0.92,1)" font-size="6.6" fill="#303030" text-anchor="middle" stroke="#303030" stroke-width="0.06">C</text>
<text transform="translate(195.29,180.86) scale(0.92,1)" font-size="6.6" fill="#303030" text-anchor="middle" stroke="#303030" stroke-width="0.06">C</text>
<text transform="translate(213.07,43.58) scale(0.92,1)" font-size="6.6" fill="#303030" text-anchor="middle" stroke="#303030" stroke-width="0.06">T</text>
<text transform="translate(213.07,60.74) scale(0.92,1)" font-size="6.6" fill="#303030" text-anchor="middle" stroke="#303030" stroke-width="0.06">T</text>
<text transform="translate(213.07,77.90) scale(0.92,1)" font-size="6.6" fill="#303030" text-anchor="middle" stroke="#303030" stroke-width="0.06">T</text>
<text transform="translate(213.07,95.06) scale(0.92,1)" font-size="6.6" fill="#303030" text-anchor="middle" stroke="#303030" stroke-width="0.06">T</text>
<text transform="translate(213.07,112.22) scale(0.92,1)" font-size="6.6" fill="#303030" text-anchor="middle" stroke="#303030" stroke-width="0.06">T</text>
<text transform="translate(213.07,129.38) scale(0.92,1)" font-size="6.6" fill="#303030" text-anchor="middle" stroke="#303030" stroke-width="0.06">T</text>
<text transform="translate(213.07,146.54) scale(0.92,1)" font-size="6.6" fill="#303030" text-anchor="middle" stroke="#303030" stroke-width="0.06">T</text>
<text transform="translate(213.07,163.70) scale(0.92,1)" font-size="6.6" fill="#303030" text-anchor="middle" stroke="#303030" stroke-width="0.06">T</text>
<text transform="translate(213.07,180.86) scale(0.92,1)" font-size="6.6" fill="#303030" text-anchor="middle" stroke="#303030" stroke-width="0.06">T</text>
<text transform="translate(230.85,43.58) scale(0.92,1)" font-size="6.6" fill="#303030" text-anchor="middle" stroke="#303030" stroke-width="0.06">T</text>
<text transform="translate(230.85,60.74) scale(0.92,1)" font-size="6.6" fill="#303030" text-anchor="middle" stroke="#303030" stroke-width="0.06">T</text>
<text transform="translate(230.85,77.90) scale(0.92,1)" font-size="6.6" fill="#303030" text-anchor="middle" stroke="#303030" stroke-width="0.06">T</text>
<text transform="translate(230.85,95.06) scale(0.92,1)" font-size="6.6" fill="#303030" text-anchor="middle" stroke="#303030" stroke-width="0.06">T</text>
<text transform="translate(230.85,112.22) scale(0.92,1)" font-size="6.6" fill="#303030" text-anchor="middle" stroke="#303030" stroke-width="0.06">T</text>
<text transform="translate(230.85,129.38) scale(0.92,1)" font-size="6.6" fill="#303030" text-anchor="middle" stroke="#303030" stroke-width="0.06">T</text>
<text transform="translate(230.85,146.54) scale(0.92,1)" font-size="6.6" fill="#303030" text-anchor="middle" stroke="#303030" stroke-width="0.06">T</text>
<text transform="translate(230.85,163.70) scale(0.92,1)" font-size="6.6" fill="#303030" text-anchor="middle" stroke="#303030" stroke-width="0.06">T</text>
<text transform="translate(230.85,180.86) scale(0.92,1)" font-size="6.6" fill="#303030" text-anchor="middle" stroke="#303030" stroke-width="0.06">T</text>
<text transform="translate(248.63,43.58) scale(0.92,1)" font-size="6.6" fill="#303030" text-anchor="middle" stroke="#303030" stroke-width="0.06">T</text>
<text transform="translate(248.63,60.74) scale(0.92,1)" font-size="6.6" fill="#303030" text-anchor="middle" stroke="#303030" stroke-width="0.06">T</text>
<text transform="translate(248.63,77.90) scale(0.92,1)" font-size="6.6" fill="#303030" text-anchor="middle" stroke="#303030" stroke-width="0.06">T</text>
<text transform="translate(248.63,95.06) scale(0.92,1)" font-size="6.6" fill="#303030" text-anchor="middle" stroke="#303030" stroke-width="0.06">T</text>
<text transform="translate(248.63,112.22) scale(0.92,1)" font-size="6.6" fill="#303030" text-anchor="middle" stroke="#303030" stroke-width="0.06">T</text>
<text transform="translate(248.63,129.38) scale(0.92,1)" font-size="6.6" fill="#303030" text-anchor="middle" stroke="#303030" stroke-width="0.06">T</text>
<text transform="translate(248.63,146.54) scale(0.92,1)" font-size="6.6" fill="#303030" text-anchor="middle" stroke="#303030" stroke-width="0.06">T</text>
<text transform="translate(248.63,163.70) scale(0.92,1)" font-size="6.6" fill="#303030" text-anchor="middle" stroke="#303030" stroke-width="0.06">T</text>
<text transform="translate(248.63,180.86) scale(0.92,1)" font-size="6.6" fill="#303030" text-anchor="middle" stroke="#303030" stroke-width="0.06">T</text>
<text transform="translate(266.41,43.58) scale(0.92,1)" font-size="6.6" fill="#303030" text-anchor="middle" stroke="#303030" stroke-width="0.06">T</text>
<text transform="translate(266.41,60.74) scale(0.92,1)" font-size="6.6" fill="#303030" text-anchor="middle" stroke="#303030" stroke-width="0.06">T</text>
<text transform="translate(266.41,77.90) scale(0.92,1)" font-size="6.6" fill="#303030" text-anchor="middle" stroke="#303030" stroke-width="0.06">T</text>
<text transform="translate(266.41,95.06) scale(0.92,1)" font-size="6.6" fill="#303030" text-anchor="middle" stroke="#303030" stroke-width="0.06">T</text>
<text transform="translate(266.41,112.22) scale(0.92,1)" font-size="6.6" fill="#303030" text-anchor="middle" stroke="#303030" stroke-width="0.06">T</text>
<text transform="translate(266.41,129.38) scale(0.92,1)" font-size="6.6" fill="#303030" text-anchor="middle" stroke="#303030" stroke-width="0.06">T</text>
<text transform="translate(266.41,146.54) scale(0.92,1)" font-size="6.6" fill="#303030" text-anchor="middle" stroke="#303030" stroke-width="0.06">T</text>
<text transform="translate(266.41,163.70) scale(0.92,1)" font-size="6.6" fill="#303030" text-anchor="middle" stroke="#303030" stroke-width="0.06">T</text>
<text transform="translate(266.41,180.86) scale(0.92,1)" font-size="6.6" fill="#303030" text-anchor="middle" stroke="#303030" stroke-width="0.06">T</text>
<text transform="translate(284.19,43.58) scale(0.92,1)" font-size="6.6" fill="#303030" text-anchor="middle" stroke="#303030" stroke-width="0.06">C</text>
<text transform="translate(284.19,60.74) scale(0.92,1)" font-size="6.6" fill="#303030" text-anchor="middle" stroke="#303030" stroke-width="0.06">C</text>
<text transform="translate(284.19,77.90) scale(0.92,1)" font-size="6.6" fill="#303030" text-anchor="middle" stroke="#303030" stroke-width="0.06">C</text>
<text transform="translate(284.19,95.06) scale(0.92,1)" font-size="6.6" fill="#303030" text-anchor="middle" stroke="#303030" stroke-width="0.06">C</text>
<text transform="translate(284.19,112.22) scale(0.92,1)" font-size="6.6" fill="#303030" text-anchor="middle" stroke="#303030" stroke-width="0.06">C</text>
<text transform="translate(284.19,129.38) scale(0.92,1)" font-size="6.6" fill="#303030" text-anchor="middle" stroke="#303030" stroke-width="0.06">C</text>
<text transform="translate(284.19,146.54) scale(0.92,1)" font-size="6.6" fill="#303030" text-anchor="middle" stroke="#303030" stroke-width="0.06">C</text>
<text transform="translate(284.19,163.70) scale(0.92,1)" font-size="6.6" fill="#303030" text-anchor="middle" stroke="#303030" stroke-width="0.06">C</text>
<text transform="translate(284.19,180.86) scale(0.92,1)" font-size="6.6" fill="#303030" text-anchor="middle" stroke="#303030" stroke-width="0.06">C</text>
<text transform="translate(301.97,95.06) scale(0.92,1)" font-size="6.6" fill="#303030" text-anchor="middle" stroke="#303030" stroke-width="0.06">T</text>
<text transform="translate(301.97,112.22) scale(0.92,1)" font-size="6.6" fill="#303030" text-anchor="middle" stroke="#303030" stroke-width="0.06">T</text>
<text transform="translate(301.97,129.38) scale(0.92,1)" font-size="6.6" fill="#303030" text-anchor="middle" stroke="#303030" stroke-width="0.06">T</text>
<text transform="translate(301.97,146.54) scale(0.92,1)" font-size="6.6" fill="#303030" text-anchor="middle" stroke="#303030" stroke-width="0.06">T</text>
<text transform="translate(301.97,163.70) scale(0.92,1)" font-size="6.6" fill="#303030" text-anchor="middle" stroke="#303030" stroke-width="0.06">T</text>
<text transform="translate(301.97,180.86) scale(0.92,1)" font-size="6.6" fill="#303030" text-anchor="middle" stroke="#303030" stroke-width="0.06">T</text>
<text transform="translate(319.75,43.58) scale(0.92,1)" font-size="6.6" fill="#303030" text-anchor="middle" stroke="#303030" stroke-width="0.06">C</text>
<text transform="translate(319.75,60.74) scale(0.92,1)" font-size="6.6" fill="#303030" text-anchor="middle" stroke="#303030" stroke-width="0.06">C</text>
<text transform="translate(319.75,77.90) scale(0.92,1)" font-size="6.6" fill="#303030" text-anchor="middle" stroke="#303030" stroke-width="0.06">C</text>
<text transform="translate(319.75,95.06) scale(0.92,1)" font-size="6.6" fill="#303030" text-anchor="middle" stroke="#303030" stroke-width="0.06">C</text>
<text transform="translate(319.75,112.22) scale(0.92,1)" font-size="6.6" fill="#303030" text-anchor="middle" stroke="#303030" stroke-width="0.06">C</text>
<text transform="translate(319.75,129.38) scale(0.92,1)" font-size="6.6" fill="#303030" text-anchor="middle" stroke="#303030" stroke-width="0.06">C</text>
<text transform="translate(319.75,146.54) scale(0.92,1)" font-size="6.6" fill="#303030" text-anchor="middle" stroke="#303030" stroke-width="0.06">C</text>
<text transform="translate(319.75,163.70) scale(0.92,1)" font-size="6.6" fill="#303030" text-anchor="middle" stroke="#303030" stroke-width="0.06">C</text>
<text transform="translate(319.75,180.86) scale(0.92,1)" font-size="6.6" fill="#303030" text-anchor="middle" stroke="#303030" stroke-width="0.06">C</text>
<text transform="translate(337.53,43.58) scale(0.92,1)" font-size="6.6" fill="#303030" text-anchor="middle" stroke="#303030" stroke-width="0.06">T</text>
<text transform="translate(337.53,60.74) scale(0.92,1)" font-size="6.6" fill="#303030" text-anchor="middle" stroke="#303030" stroke-width="0.06">T</text>
<text transform="translate(337.53,77.90) scale(0.92,1)" font-size="6.6" fill="#303030" text-anchor="middle" stroke="#303030" stroke-width="0.06">T</text>
<text transform="translate(337.53,95.06) scale(0.92,1)" font-size="6.6" fill="#303030" text-anchor="middle" stroke="#303030" stroke-width="0.06">T</text>
<text transform="translate(337.53,112.22) scale(0.92,1)" font-size="6.6" fill="#303030" text-anchor="middle" stroke="#303030" stroke-width="0.06">T</text>
<text transform="translate(337.53,129.38) scale(0.92,1)" font-size="6.6" fill="#303030" text-anchor="middle" stroke="#303030" stroke-width="0.06">T</text>
<text transform="translate(337.53,146.54) scale(0.92,1)" font-size="6.6" fill="#303030" text-anchor="middle" stroke="#303030" stroke-width="0.06">T</text>
<text transform="translate(337.53,163.70) scale(0.92,1)" font-size="6.6" fill="#303030" text-anchor="middle" stroke="#303030" stroke-width="0.06">T</text>
<text transform="translate(337.53,180.86) scale(0.92,1)" font-size="6.6" fill="#303030" text-anchor="middle" stroke="#303030" stroke-width="0.06">T</text>
<text transform="translate(355.31,43.58) scale(0.92,1)" font-size="6.6" fill="#303030" text-anchor="middle" stroke="#303030" stroke-width="0.06">C</text>
<text transform="translate(355.31,60.74) scale(0.92,1)" font-size="6.6" fill="#303030" text-anchor="middle" stroke="#303030" stroke-width="0.06">C</text>
<text transform="translate(355.31,77.90) scale(0.92,1)" font-size="6.6" fill="#303030" text-anchor="middle" stroke="#303030" stroke-width="0.06">C</text>
<text transform="translate(355.31,95.06) scale(0.92,1)" font-size="6.6" fill="#303030" text-anchor="middle" stroke="#303030" stroke-width="0.06">C</text>
<text transform="translate(355.31,112.22) scale(0.92,1)" font-size="6.6" fill="#303030" text-anchor="middle" stroke="#303030" stroke-width="0.06">C</text>
<text transform="translate(355.31,129.38) scale(0.92,1)" font-size="6.6" fill="#303030" text-anchor="middle" stroke="#303030" stroke-width="0.06">C</text>
<text transform="translate(355.31,146.54) scale(0.92,1)" font-size="6.6" fill="#303030" text-anchor="middle" stroke="#303030" stroke-width="0.06">C</text>
<text transform="translate(355.31,163.70) scale(0.92,1)" font-size="6.6" fill="#303030" text-anchor="middle" stroke="#303030" stroke-width="0.06">C</text>
<text transform="translate(355.31,180.86) scale(0.92,1)" font-size="6.6" fill="#303030" text-anchor="middle" stroke="#303030" stroke-width="0.06">C</text>
<text transform="translate(373.09,43.58) scale(0.92,1)" font-size="6.6" fill="#303030" text-anchor="middle" stroke="#303030" stroke-width="0.06">A</text>
<text transform="translate(373.09,60.74) scale(0.92,1)" font-size="6.6" fill="#303030" text-anchor="middle" stroke="#303030" stroke-width="0.06">A</text>
<text transform="translate(373.09,77.90) scale(0.92,1)" font-size="6.6" fill="#303030" text-anchor="middle" stroke="#303030" stroke-width="0.06">A</text>
<text transform="translate(373.09,95.06) scale(0.92,1)" font-size="6.6" fill="#303030" text-anchor="middle" stroke="#303030" stroke-width="0.06">A</text>
<text transform="translate(373.09,112.22) scale(0.92,1)" font-size="6.6" fill="#303030" text-anchor="middle" stroke="#303030" stroke-width="0.06">A</text>
<text transform="translate(373.09,129.38) scale(0.92,1)" font-size="6.6" fill="#303030" text-anchor="middle" stroke="#303030" stroke-width="0.06">A</text>
<text transform="translate(373.09,146.54) scale(0.92,1)" font-size="6.6" fill="#303030" text-anchor="middle" stroke="#303030" stroke-width="0.06">A</text>
<text transform="translate(373.09,163.70) scale(0.92,1)" font-size="6.6" fill="#303030" text-anchor="middle" stroke="#303030" stroke-width="0.06">A</text>
<text transform="translate(373.09,180.86) scale(0.92,1)" font-size="6.6" fill="#303030" text-anchor="middle" stroke="#303030" stroke-width="0.06">A</text>
<text transform="translate(390.87,43.58) scale(0.92,1)" font-size="6.6" fill="#303030" text-anchor="middle" stroke="#303030" stroke-width="0.06">G</text>
<text transform="translate(390.87,60.74) scale(0.92,1)" font-size="6.6" fill="#303030" text-anchor="middle" stroke="#303030" stroke-width="0.06">G</text>
<text transform="translate(390.87,77.90) scale(0.92,1)" font-size="6.6" fill="#303030" text-anchor="middle" stroke="#303030" stroke-width="0.06">G</text>
<text transform="translate(390.87,95.06) scale(0.92,1)" font-size="6.6" fill="#303030" text-anchor="middle" stroke="#303030" stroke-width="0.06">G</text>
<text transform="translate(390.87,112.22) scale(0.92,1)" font-size="6.6" fill="#303030" text-anchor="middle" stroke="#303030" stroke-width="0.06">G</text>
<text transform="translate(390.87,129.38) scale(0.92,1)" font-size="6.6" fill="#303030" text-anchor="middle" stroke="#303030" stroke-width="0.06">G</text>
<text transform="translate(390.87,146.54) scale(0.92,1)" font-size="6.6" fill="#303030" text-anchor="middle" stroke="#303030" stroke-width="0.06">G</text>
<text transform="translate(390.87,163.70) scale(0.92,1)" font-size="6.6" fill="#303030" text-anchor="middle" stroke="#303030" stroke-width="0.06">G</text>
<text transform="translate(390.87,180.86) scale(0.92,1)" font-size="6.6" fill="#303030" text-anchor="middle" stroke="#303030" stroke-width="0.06">G</text>
<text transform="translate(408.65,43.58) scale(0.92,1)" font-size="6.6" fill="#303030" text-anchor="middle" stroke="#303030" stroke-width="0.06">A</text>
<text transform="translate(408.65,60.74) scale(0.92,1)" font-size="6.6" fill="#303030" text-anchor="middle" stroke="#303030" stroke-width="0.06">A</text>
<text transform="translate(408.65,77.90) scale(0.92,1)" font-size="6.6" fill="#303030" text-anchor="middle" stroke="#303030" stroke-width="0.06">A</text>
<text transform="translate(408.65,95.06) scale(0.92,1)" font-size="6.6" fill="#303030" text-anchor="middle" stroke="#303030" stroke-width="0.06">A</text>
<text transform="translate(408.65,112.22) scale(0.92,1)" font-size="6.6" fill="#303030" text-anchor="middle" stroke="#303030" stroke-width="0.06">A</text>
<text transform="translate(408.65,129.38) scale(0.92,1)" font-size="6.6" fill="#303030" text-anchor="middle" stroke="#303030" stroke-width="0.06">A</text>
<text transform="translate(408.65,146.54) scale(0.92,1)" font-size="6.6" fill="#303030" text-anchor="middle" stroke="#303030" stroke-width="0.06">A</text>
<text transform="translate(408.65,163.70) scale(0.92,1)" font-size="6.6" fill="#303030" text-anchor="middle" stroke="#303030" stroke-width="0.06">A</text>
<text transform="translate(408.65,180.86) scale(0.92,1)" font-size="6.6" fill="#303030" text-anchor="middle" stroke="#303030" stroke-width="0.06">A</text>
<text transform="translate(426.43,43.58) scale(0.92,1)" font-size="6.6" fill="#303030" text-anchor="middle" stroke="#303030" stroke-width="0.06">T</text>
<text transform="translate(426.43,60.74) scale(0.92,1)" font-size="6.6" fill="#303030" text-anchor="middle" stroke="#303030" stroke-width="0.06">T</text>
<text transform="translate(426.43,77.90) scale(0.92,1)" font-size="6.6" fill="#303030" text-anchor="middle" stroke="#303030" stroke-width="0.06">T</text>
<text transform="translate(426.43,95.06) scale(0.92,1)" font-size="6.6" fill="#303030" text-anchor="middle" stroke="#303030" stroke-width="0.06">T</text>
<text transform="translate(426.43,112.22) scale(0.92,1)" font-size="6.6" fill="#303030" text-anchor="middle" stroke="#303030" stroke-width="0.06">T</text>
<text transform="translate(426.43,129.38) scale(0.92,1)" font-size="6.6" fill="#303030" text-anchor="middle" stroke="#303030" stroke-width="0.06">T</text>
<text transform="translate(426.43,146.54) scale(0.92,1)" font-size="6.6" fill="#303030" text-anchor="middle" stroke="#303030" stroke-width="0.06">T</text>
<text transform="translate(426.43,163.70) scale(0.92,1)" font-size="6.6" fill="#303030" text-anchor="middle" stroke="#303030" stroke-width="0.06">T</text>
<text transform="translate(426.43,180.86) scale(0.92,1)" font-size="6.6" fill="#303030" text-anchor="middle" stroke="#303030" stroke-width="0.06">T</text>
<text transform="translate(444.21,180.86) scale(0.92,1)" font-size="6.6" fill="#303030" text-anchor="middle" stroke="#303030" stroke-width="0.06">C</text>
<text transform="translate(461.99,43.58) scale(0.92,1)" font-size="6.6" fill="#303030" text-anchor="middle" stroke="#303030" stroke-width="0.06">G</text>
<text transform="translate(461.99,60.74) scale(0.92,1)" font-size="6.6" fill="#303030" text-anchor="middle" stroke="#303030" stroke-width="0.06">G</text>
<text transform="translate(461.99,77.90) scale(0.92,1)" font-size="6.6" fill="#303030" text-anchor="middle" stroke="#303030" stroke-width="0.06">G</text>
<text transform="translate(461.99,95.06) scale(0.92,1)" font-size="6.6" fill="#303030" text-anchor="middle" stroke="#303030" stroke-width="0.06">G</text>
<text transform="translate(461.99,112.22) scale(0.92,1)" font-size="6.6" fill="#303030" text-anchor="middle" stroke="#303030" stroke-width="0.06">G</text>
<text transform="translate(461.99,129.38) scale(0.92,1)" font-size="6.6" fill="#303030" text-anchor="middle" stroke="#303030" stroke-width="0.06">G</text>
<text transform="translate(461.99,146.54) scale(0.92,1)" font-size="6.6" fill="#303030" text-anchor="middle" stroke="#303030" stroke-width="0.06">G</text>
<text transform="translate(461.99,163.70) scale(0.92,1)" font-size="6.6" fill="#303030" text-anchor="middle" stroke="#303030" stroke-width="0.06">G</text>
<text transform="translate(461.99,180.86) scale(0.92,1)" font-size="6.6" fill="#303030" text-anchor="middle" stroke="#303030" stroke-width="0.06">G</text>
<text transform="translate(479.77,43.58) scale(0.92,1)" font-size="6.6" fill="#303030" text-anchor="middle" stroke="#303030" stroke-width="0.06">C</text>
<text transform="translate(479.77,60.74) scale(0.92,1)" font-size="6.6" fill="#303030" text-anchor="middle" stroke="#303030" stroke-width="0.06">C</text>
<text transform="translate(479.77,77.90) scale(0.92,1)" font-size="6.6" fill="#303030" text-anchor="middle" stroke="#303030" stroke-width="0.06">C</text>
<text transform="translate(479.77,95.06) scale(0.92,1)" font-size="6.6" fill="#303030" text-anchor="middle" stroke="#303030" stroke-width="0.06">C</text>
<text transform="translate(479.77,112.22) scale(0.92,1)" font-size="6.6" fill="#303030" text-anchor="middle" stroke="#303030" stroke-width="0.06">C</text>
<text transform="translate(479.77,129.38) scale(0.92,1)" font-size="6.6" fill="#303030" text-anchor="middle" stroke="#303030" stroke-width="0.06">C</text>
<text transform="translate(479.77,146.54) scale(0.92,1)" font-size="6.6" fill="#303030" text-anchor="middle" stroke="#303030" stroke-width="0.06">C</text>
<text transform="translate(479.77,163.70) scale(0.92,1)" font-size="6.6" fill="#303030" text-anchor="middle" stroke="#303030" stroke-width="0.06">C</text>
<text transform="translate(479.77,180.86) scale(0.92,1)" font-size="6.6" fill="#303030" text-anchor="middle" stroke="#303030" stroke-width="0.06">C</text>
<text transform="translate(497.55,43.58) scale(0.92,1)" font-size="6.6" fill="#303030" text-anchor="middle" stroke="#303030" stroke-width="0.06">T</text>
<text transform="translate(497.55,60.74) scale(0.92,1)" font-size="6.6" fill="#303030" text-anchor="middle" stroke="#303030" stroke-width="0.06">T</text>
<text transform="translate(497.55,77.90) scale(0.92,1)" font-size="6.6" fill="#303030" text-anchor="middle" stroke="#303030" stroke-width="0.06">T</text>
<text transform="translate(497.55,95.06) scale(0.92,1)" font-size="6.6" fill="#303030" text-anchor="middle" stroke="#303030" stroke-width="0.06">T</text>
<text transform="translate(497.55,112.22) scale(0.92,1)" font-size="6.6" fill="#303030" text-anchor="middle" stroke="#303030" stroke-width="0.06">T</text>
<text transform="translate(497.55,129.38) scale(0.92,1)" font-size="6.6" fill="#303030" text-anchor="middle" stroke="#303030" stroke-width="0.06">T</text>
<text transform="translate(497.55,146.54) scale(0.92,1)" font-size="6.6" fill="#303030" text-anchor="middle" stroke="#303030" stroke-width="0.06">T</text>
<text transform="translate(497.55,163.70) scale(0.92,1)" font-size="6.6" fill="#303030" text-anchor="middle" stroke="#303030" stroke-width="0.06">T</text>
<text transform="translate(497.55,180.86) scale(0.92,1)" font-size="6.6" fill="#303030" text-anchor="middle" stroke="#303030" stroke-width="0.06">T</text>
<text transform="translate(515.33,129.38) scale(0.92,1)" font-size="6.6" fill="#303030" text-anchor="middle" stroke="#303030" stroke-width="0.06">A</text>
<text transform="translate(515.33,146.54) scale(0.92,1)" font-size="6.6" fill="#303030" text-anchor="middle" stroke="#303030" stroke-width="0.06">A</text>
<text transform="translate(515.33,163.70) scale(0.92,1)" font-size="6.6" fill="#303030" text-anchor="middle" stroke="#303030" stroke-width="0.06">A</text>
<text transform="translate(515.33,180.86) scale(0.92,1)" font-size="6.6" fill="#303030" text-anchor="middle" stroke="#303030" stroke-width="0.06">A</text>
<text transform="translate(533.11,43.58) scale(0.92,1)" font-size="6.6" fill="#303030" text-anchor="middle" stroke="#303030" stroke-width="0.06">T</text>
<text transform="translate(533.11,60.74) scale(0.92,1)" font-size="6.6" fill="#303030" text-anchor="middle" stroke="#303030" stroke-width="0.06">T</text>
<text transform="translate(533.11,77.90) scale(0.92,1)" font-size="6.6" fill="#303030" text-anchor="middle" stroke="#303030" stroke-width="0.06">T</text>
<text transform="translate(533.11,95.06) scale(0.92,1)" font-size="6.6" fill="#303030" text-anchor="middle" stroke="#303030" stroke-width="0.06">T</text>
<text transform="translate(533.11,112.22) scale(0.92,1)" font-size="6.6" fill="#303030" text-anchor="middle" stroke="#303030" stroke-width="0.06">T</text>
<text transform="translate(533.11,129.38) scale(0.92,1)" font-size="6.6" fill="#303030" text-anchor="middle" stroke="#303030" stroke-width="0.06">T</text>
<text transform="translate(533.11,146.54) scale(0.92,1)" font-size="6.6" fill="#303030" text-anchor="middle" stroke="#303030" stroke-width="0.06">T</text>
<text transform="translate(533.11,163.70) scale(0.92,1)" font-size="6.6" fill="#303030" text-anchor="middle" stroke="#303030" stroke-width="0.06">T</text>
<text transform="translate(533.11,180.86) scale(0.92,1)" font-size="6.6" fill="#303030" text-anchor="middle" stroke="#303030" stroke-width="0.06">T</text>
<text transform="translate(550.89,43.58) scale(0.92,1)" font-size="6.6" fill="#303030" text-anchor="middle" stroke="#303030" stroke-width="0.06">T</text>
<text transform="translate(550.89,60.74) scale(0.92,1)" font-size="6.6" fill="#303030" text-anchor="middle" stroke="#303030" stroke-width="0.06">T</text>
<text transform="translate(550.89,77.90) scale(0.92,1)" font-size="6.6" fill="#303030" text-anchor="middle" stroke="#303030" stroke-width="0.06">T</text>
<text transform="translate(550.89,95.06) scale(0.92,1)" font-size="6.6" fill="#303030" text-anchor="middle" stroke="#303030" stroke-width="0.06">T</text>
<text transform="translate(550.89,112.22) scale(0.92,1)" font-size="6.6" fill="#303030" text-anchor="middle" stroke="#303030" stroke-width="0.06">T</text>
<text transform="translate(550.89,129.38) scale(0.92,1)" font-size="6.6" fill="#303030" text-anchor="middle" stroke="#303030" stroke-width="0.06">T</text>
<text transform="translate(550.89,146.54) scale(0.92,1)" font-size="6.6" fill="#303030" text-anchor="middle" stroke="#303030" stroke-width="0.06">T</text>
<text transform="translate(550.89,163.70) scale(0.92,1)" font-size="6.6" fill="#303030" text-anchor="middle" stroke="#303030" stroke-width="0.06">T</text>
<text transform="translate(550.89,180.86) scale(0.92,1)" font-size="6.6" fill="#303030" text-anchor="middle" stroke="#303030" stroke-width="0.06">T</text>
<text transform="translate(568.67,43.58) scale(0.92,1)" font-size="6.6" fill="#303030" text-anchor="middle" stroke="#303030" stroke-width="0.06">G</text>
<text transform="translate(568.67,60.74) scale(0.92,1)" font-size="6.6" fill="#303030" text-anchor="middle" stroke="#303030" stroke-width="0.06">G</text>
<text transform="translate(568.67,77.90) scale(0.92,1)" font-size="6.6" fill="#303030" text-anchor="middle" stroke="#303030" stroke-width="0.06">G</text>
<text transform="translate(568.67,95.06) scale(0.92,1)" font-size="6.6" fill="#303030" text-anchor="middle" stroke="#303030" stroke-width="0.06">G</text>
<text transform="translate(568.67,112.22) scale(0.92,1)" font-size="6.6" fill="#303030" text-anchor="middle" stroke="#303030" stroke-width="0.06">G</text>
<text transform="translate(568.67,129.38) scale(0.92,1)" font-size="6.6" fill="#303030" text-anchor="middle" stroke="#303030" stroke-width="0.06">G</text>
<text transform="translate(568.67,146.54) scale(0.92,1)" font-size="6.6" fill="#303030" text-anchor="middle" stroke="#303030" stroke-width="0.06">G</text>
<text transform="translate(568.67,163.70) scale(0.92,1)" font-size="6.6" fill="#303030" text-anchor="middle" stroke="#303030" stroke-width="0.06">G</text>
<text transform="translate(568.67,180.86) scale(0.92,1)" font-size="6.6" fill="#303030" text-anchor="middle" stroke="#303030" stroke-width="0.06">G</text>
<text transform="translate(586.45,43.58) scale(0.92,1)" font-size="6.6" fill="#303030" text-anchor="middle" stroke="#303030" stroke-width="0.06">C</text>
<text transform="translate(586.45,60.74) scale(0.92,1)" font-size="6.6" fill="#303030" text-anchor="middle" stroke="#303030" stroke-width="0.06">C</text>
<text transform="translate(586.45,77.90) scale(0.92,1)" font-size="6.6" fill="#303030" text-anchor="middle" stroke="#303030" stroke-width="0.06">C</text>
<text transform="translate(586.45,95.06) scale(0.92,1)" font-size="6.6" fill="#303030" text-anchor="middle" stroke="#303030" stroke-width="0.06">C</text>
<text transform="translate(586.45,112.22) scale(0.92,1)" font-size="6.6" fill="#303030" text-anchor="middle" stroke="#303030" stroke-width="0.06">C</text>
<text transform="translate(586.45,129.38) scale(0.92,1)" font-size="6.6" fill="#303030" text-anchor="middle" stroke="#303030" stroke-width="0.06">C</text>
<text transform="translate(586.45,146.54) scale(0.92,1)" font-size="6.6" fill="#303030" text-anchor="middle" stroke="#303030" stroke-width="0.06">C</text>
<text transform="translate(586.45,163.70) scale(0.92,1)" font-size="6.6" fill="#303030" text-anchor="middle" stroke="#303030" stroke-width="0.06">C</text>
<text transform="translate(586.45,180.86) scale(0.92,1)" font-size="6.6" fill="#303030" text-anchor="middle" stroke="#303030" stroke-width="0.06">C</text>
<text transform="translate(604.23,43.58) scale(0.92,1)" font-size="6.6" fill="#303030" text-anchor="middle" stroke="#303030" stroke-width="0.06">T</text>
<text transform="translate(604.23,60.74) scale(0.92,1)" font-size="6.6" fill="#303030" text-anchor="middle" stroke="#303030" stroke-width="0.06">T</text>
<text transform="translate(604.23,77.90) scale(0.92,1)" font-size="6.6" fill="#303030" text-anchor="middle" stroke="#303030" stroke-width="0.06">T</text>
<text transform="translate(604.23,95.06) scale(0.92,1)" font-size="6.6" fill="#303030" text-anchor="middle" stroke="#303030" stroke-width="0.06">T</text>
<text transform="translate(604.23,112.22) scale(0.92,1)" font-size="6.6" fill="#303030" text-anchor="middle" stroke="#303030" stroke-width="0.06">T</text>
<text transform="translate(604.23,129.38) scale(0.92,1)" font-size="6.6" fill="#303030" text-anchor="middle" stroke="#303030" stroke-width="0.06">T</text>
<text transform="translate(604.23,146.54) scale(0.92,1)" font-size="6.6" fill="#303030" text-anchor="middle" stroke="#303030" stroke-width="0.06">T</text>
<text transform="translate(604.23,163.70) scale(0.92,1)" font-size="6.6" fill="#303030" text-anchor="middle" stroke="#303030" stroke-width="0.06">T</text>
<text transform="translate(604.23,180.86) scale(0.92,1)" font-size="6.6" fill="#303030" text-anchor="middle" stroke="#303030" stroke-width="0.06">T</text>
<text transform="translate(622.01,43.58) scale(0.92,1)" font-size="6.6" fill="#303030" text-anchor="middle" stroke="#303030" stroke-width="0.06">A</text>
<text transform="translate(622.01,60.74) scale(0.92,1)" font-size="6.6" fill="#303030" text-anchor="middle" stroke="#303030" stroke-width="0.06">A</text>
<text transform="translate(622.01,77.90) scale(0.92,1)" font-size="6.6" fill="#303030" text-anchor="middle" stroke="#303030" stroke-width="0.06">A</text>
<text transform="translate(622.01,95.06) scale(0.92,1)" font-size="6.6" fill="#303030" text-anchor="middle" stroke="#303030" stroke-width="0.06">A</text>
<text transform="translate(622.01,112.22) scale(0.92,1)" font-size="6.6" fill="#303030" text-anchor="middle" stroke="#303030" stroke-width="0.06">A</text>
<text transform="translate(622.01,129.38) scale(0.92,1)" font-size="6.6" fill="#303030" text-anchor="middle" stroke="#303030" stroke-width="0.06">A</text>
<text transform="translate(622.01,146.54) scale(0.92,1)" font-size="6.6" fill="#303030" text-anchor="middle" stroke="#303030" stroke-width="0.06">A</text>
<text transform="translate(622.01,163.70) scale(0.92,1)" font-size="6.6" fill="#303030" text-anchor="middle" stroke="#303030" stroke-width="0.06">A</text>
<text transform="translate(622.01,180.86) scale(0.92,1)" font-size="6.6" fill="#303030" text-anchor="middle" stroke="#303030" stroke-width="0.06">A</text>
<text transform="translate(639.79,43.58) scale(0.92,1)" font-size="6.6" fill="#303030" text-anchor="middle" stroke="#303030" stroke-width="0.06">A</text>
<text transform="translate(639.79,60.74) scale(0.92,1)" font-size="6.6" fill="#303030" text-anchor="middle" stroke="#303030" stroke-width="0.06">A</text>
<text transform="translate(639.79,77.90) scale(0.92,1)" font-size="6.6" fill="#303030" text-anchor="middle" stroke="#303030" stroke-width="0.06">A</text>
<text transform="translate(639.79,95.06) scale(0.92,1)" font-size="6.6" fill="#303030" text-anchor="middle" stroke="#303030" stroke-width="0.06">A</text>
<text transform="translate(639.79,112.22) scale(0.92,1)" font-size="6.6" fill="#303030" text-anchor="middle" stroke="#303030" stroke-width="0.06">A</text>
<text transform="translate(639.79,129.38) scale(0.92,1)" font-size="6.6" fill="#303030" text-anchor="middle" stroke="#303030" stroke-width="0.06">A</text>
<text transform="translate(639.79,146.54) scale(0.92,1)" font-size="6.6" fill="#303030" text-anchor="middle" stroke="#303030" stroke-width="0.06">A</text>
<text transform="translate(639.79,163.70) scale(0.92,1)" font-size="6.6" fill="#303030" text-anchor="middle" stroke="#303030" stroke-width="0.06">A</text>
<text transform="translate(639.79,180.86) scale(0.92,1)" font-size="6.6" fill="#303030" text-anchor="middle" stroke="#303030" stroke-width="0.06">A</text>
<text transform="translate(657.57,43.58) scale(0.92,1)" font-size="6.6" fill="#303030" text-anchor="middle" stroke="#303030" stroke-width="0.06">A</text>
<text transform="translate(657.57,60.74) scale(0.92,1)" font-size="6.6" fill="#303030" text-anchor="middle" stroke="#303030" stroke-width="0.06">A</text>
<text transform="translate(657.57,77.90) scale(0.92,1)" font-size="6.6" fill="#303030" text-anchor="middle" stroke="#303030" stroke-width="0.06">A</text>
<text transform="translate(657.57,95.06) scale(0.92,1)" font-size="6.6" fill="#303030" text-anchor="middle" stroke="#303030" stroke-width="0.06">A</text>
<text transform="translate(657.57,112.22) scale(0.92,1)" font-size="6.6" fill="#303030" text-anchor="middle" stroke="#303030" stroke-width="0.06">A</text>
<text transform="translate(657.57,129.38) scale(0.92,1)" font-size="6.6" fill="#303030" text-anchor="middle" stroke="#303030" stroke-width="0.06">A</text>
<text transform="translate(657.57,146.54) scale(0.92,1)" font-size="6.6" fill="#303030" text-anchor="middle" stroke="#303030" stroke-width="0.06">A</text>
<text transform="translate(657.57,163.70) scale(0.92,1)" font-size="6.6" fill="#303030" text-anchor="middle" stroke="#303030" stroke-width="0.06">A</text>
<text transform="translate(657.57,180.86) scale(0.92,1)" font-size="6.6" fill="#303030" text-anchor="middle" stroke="#303030" stroke-width="0.06">A</text>
<text transform="translate(675.35,43.58) scale(0.92,1)" font-size="6.6" fill="#303030" text-anchor="middle" stroke="#303030" stroke-width="0.06">C</text>
<text transform="translate(675.35,60.74) scale(0.92,1)" font-size="6.6" fill="#303030" text-anchor="middle" stroke="#303030" stroke-width="0.06">C</text>
<text transform="translate(675.35,77.90) scale(0.92,1)" font-size="6.6" fill="#303030" text-anchor="middle" stroke="#303030" stroke-width="0.06">C</text>
<text transform="translate(675.35,95.06) scale(0.92,1)" font-size="6.6" fill="#303030" text-anchor="middle" stroke="#303030" stroke-width="0.06">C</text>
<text transform="translate(675.35,112.22) scale(0.92,1)" font-size="6.6" fill="#303030" text-anchor="middle" stroke="#303030" stroke-width="0.06">C</text>
<text transform="translate(675.35,129.38) scale(0.92,1)" font-size="6.6" fill="#303030" text-anchor="middle" stroke="#303030" stroke-width="0.06">C</text>
<text transform="translate(675.35,146.54) scale(0.92,1)" font-size="6.6" fill="#303030" text-anchor="middle" stroke="#303030" stroke-width="0.06">C</text>
<text transform="translate(675.35,163.70) scale(0.92,1)" font-size="6.6" fill="#303030" text-anchor="middle" stroke="#303030" stroke-width="0.06">C</text>
<text transform="translate(675.35,180.86) scale(0.92,1)" font-size="6.6" fill="#303030" text-anchor="middle" stroke="#303030" stroke-width="0.06">C</text>
<text transform="translate(693.13,43.58) scale(0.92,1)" font-size="6.6" fill="#303030" text-anchor="middle" stroke="#303030" stroke-width="0.06">T</text>
<text transform="translate(693.13,60.74) scale(0.92,1)" font-size="6.6" fill="#303030" text-anchor="middle" stroke="#303030" stroke-width="0.06">T</text>
<text transform="translate(693.13,77.90) scale(0.92,1)" font-size="6.6" fill="#303030" text-anchor="middle" stroke="#303030" stroke-width="0.06">T</text>
<text transform="translate(693.13,95.06) scale(0.92,1)" font-size="6.6" fill="#303030" text-anchor="middle" stroke="#303030" stroke-width="0.06">T</text>
<text transform="translate(693.13,112.22) scale(0.92,1)" font-size="6.6" fill="#303030" text-anchor="middle" stroke="#303030" stroke-width="0.06">T</text>
<text transform="translate(693.13,129.38) scale(0.92,1)" font-size="6.6" fill="#303030" text-anchor="middle" stroke="#303030" stroke-width="0.06">T</text>
<text transform="translate(693.13,146.54) scale(0.92,1)" font-size="6.6" fill="#303030" text-anchor="middle" stroke="#303030" stroke-width="0.06">T</text>
<text transform="translate(693.13,163.70) scale(0.92,1)" font-size="6.6" fill="#303030" text-anchor="middle" stroke="#303030" stroke-width="0.06">T</text>
<text transform="translate(693.13,180.86) scale(0.92,1)" font-size="6.6" fill="#303030" text-anchor="middle" stroke="#303030" stroke-width="0.06">T</text>
<text transform="translate(710.91,43.58) scale(0.92,1)" font-size="6.6" fill="#303030" text-anchor="middle" stroke="#303030" stroke-width="0.06">T</text>
<text transform="translate(710.91,60.74) scale(0.92,1)" font-size="6.6" fill="#303030" text-anchor="middle" stroke="#303030" stroke-width="0.06">T</text>
<text transform="translate(710.91,77.90) scale(0.92,1)" font-size="6.6" fill="#303030" text-anchor="middle" stroke="#303030" stroke-width="0.06">T</text>
<text transform="translate(710.91,95.06) scale(0.92,1)" font-size="6.6" fill="#303030" text-anchor="middle" stroke="#303030" stroke-width="0.06">T</text>
<text transform="translate(710.91,112.22) scale(0.92,1)" font-size="6.6" fill="#303030" text-anchor="middle" stroke="#303030" stroke-width="0.06">T</text>
<text transform="translate(710.91,129.38) scale(0.92,1)" font-size="6.6" fill="#303030" text-anchor="middle" stroke="#303030" stroke-width="0.06">T</text>
<text transform="translate(710.91,146.54) scale(0.92,1)" font-size="6.6" fill="#303030" text-anchor="middle" stroke="#303030" stroke-width="0.06">T</text>
<text transform="translate(710.91,163.70) scale(0.92,1)" font-size="6.6" fill="#303030" text-anchor="middle" stroke="#303030" stroke-width="0.06">T</text>
<text transform="translate(710.91,180.86) scale(0.92,1)" font-size="6.6" fill="#303030" text-anchor="middle" stroke="#303030" stroke-width="0.06">T</text>
<text transform="translate(728.69,43.58) scale(0.92,1)" font-size="6.6" fill="#303030" text-anchor="middle" stroke="#303030" stroke-width="0.06">T</text>
<text transform="translate(728.69,60.74) scale(0.92,1)" font-size="6.6" fill="#303030" text-anchor="middle" stroke="#303030" stroke-width="0.06">T</text>
<text transform="translate(728.69,77.90) scale(0.92,1)" font-size="6.6" fill="#303030" text-anchor="middle" stroke="#303030" stroke-width="0.06">T</text>
<text transform="translate(728.69,95.06) scale(0.92,1)" font-size="6.6" fill="#303030" text-anchor="middle" stroke="#303030" stroke-width="0.06">T</text>
<text transform="translate(728.69,112.22) scale(0.92,1)" font-size="6.6" fill="#303030" text-anchor="middle" stroke="#303030" stroke-width="0.06">N</text>
<text transform="translate(728.69,129.38) scale(0.92,1)" font-size="6.6" fill="#303030" text-anchor="middle" stroke="#303030" stroke-width="0.06">T</text>
<text transform="translate(728.69,146.54) scale(0.92,1)" font-size="6.6" fill="#303030" text-anchor="middle" stroke="#303030" stroke-width="0.06">T</text>
<text transform="translate(728.69,163.70) scale(0.92,1)" font-size="6.6" fill="#303030" text-anchor="middle" stroke="#303030" stroke-width="0.06">T</text>
<text transform="translate(728.69,180.86) scale(0.92,1)" font-size="6.6" fill="#303030" text-anchor="middle" stroke="#303030" stroke-width="0.06">T</text>
<rect x="35.5" y="190.9" width="711.00" height="16.70" fill="#e5e5e5"/>
<rect x="46.10" y="190.9" width="13.9" height="16.70" fill="#dcdcdc"/>
<rect x="63.88" y="190.9" width="13.9" height="16.70" fill="#dcdcdc"/>
<rect x="81.66" y="190.9" width="13.9" height="16.70" fill="#dcdcdc"/>
<rect x="99.44" y="190.9" width="13.9" height="16.70" fill="#dcdcdc"/>
<rect x="117.22" y="190.9" width="13.9" height="16.70" fill="#dcdcdc"/>
<rect x="135.00" y="190.9" width="13.9" height="16.70" fill="#dcdcdc"/>
<rect x="152.78" y="190.9" width="13.9" height="16.70" fill="#dcdcdc"/>
<rect x="170.56" y="190.9" width="13.9" height="16.70" fill="#dcdcdc"/>
<rect x="188.34" y="190.9" width="13.9" height="16.70" fill="#dcdcdc"/>
<rect x="206.12" y="190.9" width="13.9" height="16.70" fill="#dcdcdc"/>
<rect x="223.90" y="190.9" width="13.9" height="16.70" fill="#dcdcdc"/>
<rect x="241.68" y="190.9" width="13.9" height="16.70" fill="#dcdcdc"/>
<rect x="259.46" y="190.9" width="13.9" height="16.70" fill="#dcdcdc"/>
<rect x="277.24" y="190.9" width="13.9" height="16.70" fill="#dcdcdc"/>
<rect x="295.02" y="190.9" width="13.9" height="16.70" fill="#dcdcdc"/>
<rect x="312.80" y="190.9" width="13.9" height="16.70" fill="#dcdcdc"/>
<rect x="330.58" y="190.9" width="13.9" height="16.70" fill="#dcdcdc"/>
<rect x="348.36" y="190.9" width="13.9" height="16.70" fill="#dcdcdc"/>
<rect x="366.14" y="190.9" width="13.9" height="16.70" fill="#dcdcdc"/>
<rect x="383.92" y="190.9" width="13.9" height="16.70" fill="#dcdcdc"/>
<rect x="401.70" y="190.9" width="13.9" height="16.70" fill="#dcdcdc"/>
<rect x="419.48" y="190.9" width="13.9" height="16.70" fill="#dcdcdc"/>
<rect x="437.26" y="190.9" width="13.9" height="16.70" fill="#dcdcdc"/>
<rect x="455.04" y="190.9" width="13.9" height="16.70" fill="#dcdcdc"/>
<rect x="472.82" y="190.9" width="13.9" height="16.70" fill="#dcdcdc"/>
<rect x="490.60" y="190.9" width="13.9" height="16.70" fill="#dcdcdc"/>
<rect x="508.38" y="190.9" width="13.9" height="16.70" fill="#dcdcdc"/>
<rect x="526.16" y="190.9" width="13.9" height="16.70" fill="#dcdcdc"/>
<rect x="543.94" y="190.9" width="13.9" height="16.70" fill="#dcdcdc"/>
<rect x="561.72" y="190.9" width="13.9" height="16.70" fill="#dcdcdc"/>
<rect x="579.50" y="190.9" width="13.9" height="16.70" fill="#dcdcdc"/>
<rect x="597.28" y="190.9" width="13.9" height="16.70" fill="#dcdcdc"/>
<rect x="615.06" y="190.9" width="13.9" height="16.70" fill="#dcdcdc"/>
<rect x="632.84" y="190.9" width="13.9" height="16.70" fill="#dcdcdc"/>
<rect x="650.62" y="190.9" width="13.9" height="16.70" fill="#dcdcdc"/>
<rect x="668.40" y="190.9" width="13.9" height="16.70" fill="#dcdcdc"/>
<rect x="686.18" y="190.9" width="13.9" height="16.70" fill="#dcdcdc"/>
<rect x="703.96" y="190.9" width="13.9" height="16.70" fill="#dcdcdc"/>
<rect x="721.74" y="190.9" width="13.9" height="16.70" fill="#dcdcdc"/>
<text transform="translate(53.05,201.15) scale(0.92,1)" font-size="6.6" fill="#303030" text-anchor="middle" stroke="#303030" stroke-width="0.06">C</text>
<text transform="translate(70.83,201.15) scale(0.92,1)" font-size="6.6" fill="#303030" text-anchor="middle" stroke="#303030" stroke-width="0.06">C</text>
<text transform="translate(88.61,201.15) scale(0.92,1)" font-size="6.6" fill="#303030" text-anchor="middle" stroke="#303030" stroke-width="0.06">C</text>
<text transform="translate(106.39,201.15) scale(0.92,1)" font-size="6.6" fill="#303030" text-anchor="middle" stroke="#303030" stroke-width="0.06">C</text>
<text transform="translate(124.17,201.15) scale(0.92,1)" font-size="6.6" fill="#303030" text-anchor="middle" stroke="#303030" stroke-width="0.06">C</text>
<text transform="translate(141.95,201.15) scale(0.92,1)" font-size="6.6" fill="#303030" text-anchor="middle" stroke="#303030" stroke-width="0.06">C</text>
<text transform="translate(159.73,201.15) scale(0.92,1)" font-size="6.6" fill="#303030" text-anchor="middle" stroke="#303030" stroke-width="0.06">C</text>
<text transform="translate(177.51,201.15) scale(0.92,1)" font-size="6.6" fill="#303030" text-anchor="middle" stroke="#303030" stroke-width="0.06">C</text>
<text transform="translate(195.29,201.15) scale(0.92,1)" font-size="6.6" fill="#303030" text-anchor="middle" stroke="#303030" stroke-width="0.06">T</text>
<text transform="translate(213.07,201.15) scale(0.92,1)" font-size="6.6" fill="#303030" text-anchor="middle" stroke="#303030" stroke-width="0.06">C</text>
<text transform="translate(230.85,201.15) scale(0.92,1)" font-size="6.6" fill="#303030" text-anchor="middle" stroke="#303030" stroke-width="0.06">C</text>
<text transform="translate(248.63,201.15) scale(0.92,1)" font-size="6.6" fill="#303030" text-anchor="middle" stroke="#303030" stroke-width="0.06">C</text>
<text transform="translate(266.41,201.15) scale(0.92,1)" font-size="6.6" fill="#303030" text-anchor="middle" stroke="#303030" stroke-width="0.06">C</text>
<text transform="translate(284.19,201.15) scale(0.92,1)" font-size="6.6" fill="#303030" text-anchor="middle" stroke="#303030" stroke-width="0.06">T</text>
<text transform="translate(301.97,201.15) scale(0.92,1)" font-size="6.6" fill="#303030" text-anchor="middle" stroke="#303030" stroke-width="0.06">C</text>
<text transform="translate(319.75,201.15) scale(0.92,1)" font-size="6.6" fill="#303030" text-anchor="middle" stroke="#303030" stroke-width="0.06">G</text>
<text transform="translate(337.53,201.15) scale(0.92,1)" font-size="6.6" fill="#303030" text-anchor="middle" stroke="#303030" stroke-width="0.06">A</text>
<text transform="translate(355.31,201.15) scale(0.92,1)" font-size="6.6" fill="#303030" text-anchor="middle" stroke="#303030" stroke-width="0.06">T</text>
<text transform="translate(373.09,201.15) scale(0.92,1)" font-size="6.6" fill="#303030" text-anchor="middle" stroke="#303030" stroke-width="0.06">C</text>
<text transform="translate(390.87,201.15) scale(0.92,1)" font-size="6.6" fill="#303030" text-anchor="middle" stroke="#303030" stroke-width="0.06">A</text>
<text transform="translate(408.65,201.15) scale(0.92,1)" font-size="6.6" fill="#303030" text-anchor="middle" stroke="#303030" stroke-width="0.06">C</text>
<text transform="translate(426.43,201.15) scale(0.92,1)" font-size="6.6" fill="#303030" text-anchor="middle" stroke="#303030" stroke-width="0.06">C</text>
<text transform="translate(444.21,201.15) scale(0.92,1)" font-size="6.6" fill="#303030" text-anchor="middle" stroke="#303030" stroke-width="0.06">T</text>
<text transform="translate(461.99,201.15) scale(0.92,1)" font-size="6.6" fill="#303030" text-anchor="middle" stroke="#303030" stroke-width="0.06">T</text>
<text transform="translate(479.77,201.15) scale(0.92,1)" font-size="6.6" fill="#303030" text-anchor="middle" stroke="#303030" stroke-width="0.06">G</text>
<text transform="translate(497.55,201.15) scale(0.92,1)" font-size="6.6" fill="#303030" text-anchor="middle" stroke="#303030" stroke-width="0.06">G</text>
<text transform="translate(515.33,201.15) scale(0.92,1)" font-size="6.6" fill="#303030" text-anchor="middle" stroke="#303030" stroke-width="0.06">C</text>
<text transform="translate(533.11,201.15) scale(0.92,1)" font-size="6.6" fill="#303030" text-anchor="middle" stroke="#303030" stroke-width="0.06">C</text>
<text transform="translate(550.89,201.15) scale(0.92,1)" font-size="6.6" fill="#303030" text-anchor="middle" stroke="#303030" stroke-width="0.06">G</text>
<text transform="translate(568.67,201.15) scale(0.92,1)" font-size="6.6" fill="#303030" text-anchor="middle" stroke="#303030" stroke-width="0.06">A</text>
<text transform="translate(586.45,201.15) scale(0.92,1)" font-size="6.6" fill="#303030" text-anchor="middle" stroke="#303030" stroke-width="0.06">G</text>
<text transform="translate(604.23,201.15) scale(0.92,1)" font-size="6.6" fill="#303030" text-anchor="middle" stroke="#303030" stroke-width="0.06">A</text>
<text transform="translate(622.01,201.15) scale(0.92,1)" font-size="6.6" fill="#303030" text-anchor="middle" stroke="#303030" stroke-width="0.06">T</text>
<text transform="translate(639.79,201.15) scale(0.92,1)" font-size="6.6" fill="#303030" text-anchor="middle" stroke="#303030" stroke-width="0.06">G</text>
<text transform="translate(657.57,201.15) scale(0.92,1)" font-size="6.6" fill="#303030" text-anchor="middle" stroke="#303030" stroke-width="0.06">G</text>
<text transform="translate(675.35,201.15) scale(0.92,1)" font-size="6.6" fill="#303030" text-anchor="middle" stroke="#303030" stroke-width="0.06">G</text>
<text transform="translate(693.13,201.15) scale(0.92,1)" font-size="6.6" fill="#303030" text-anchor="middle" stroke="#303030" stroke-width="0.06">C</text>
<text transform="translate(710.91,201.15) scale(0.92,1)" font-size="6.6" fill="#303030" text-anchor="middle" stroke="#303030" stroke-width="0.06">G</text>
<text transform="translate(728.69,201.15) scale(0.92,1)" font-size="6.6" fill="#303030" text-anchor="middle" stroke="#303030" stroke-width="0.06">C</text>
<polygon points="46.10,207.6 60.00,207.6 41.28,224.9" fill="#e5e5e5"/>
<polygon points="63.88,207.6 77.78,207.6 57.26,224.9" fill="#e5e5e5"/>
<polygon points="81.66,207.6 95.56,207.6 85.72,224.9" fill="#e5e5e5"/>
<polygon points="99.44,207.6 113.34,207.6 93.87,224.9" fill="#e5e5e5"/>
<polygon points="117.22,207.6 131.12,207.6 107.76,224.9" fill="#e5e5e5"/>
<polygon points="135.00,207.6 148.90,207.6 113.23,224.9" fill="#e5e5e5"/>
<polygon points="152.78,207.6 166.68,207.6 163.66,224.9" fill="#e5e5e5"/>
<polygon points="170.56,207.6 184.46,207.6 177.88,224.9" fill="#e5e5e5"/>
<polygon points="188.34,207.6 202.24,207.6 200.90,224.9" fill="#e5e5e5"/>
<polygon points="206.12,207.6 220.02,207.6 378.13,224.9" fill="#e5e5e5"/>
<polygon points="223.90,207.6 237.80,207.6 384.50,224.9" fill="#e5e5e5"/>
<polygon points="241.68,207.6 255.58,207.6 397.84,224.9" fill="#e5e5e5"/>
<polygon points="259.46,207.6 273.36,207.6 398.84,224.9" fill="#e5e5e5"/>
<polygon points="277.24,207.6 291.14,207.6 420.17,224.9" fill="#e5e5e5"/>
<polygon points="295.02,207.6 308.92,207.6 451.03,224.9" fill="#e5e5e5"/>
<polygon points="312.80,207.6 326.70,207.6 558.03,224.9" fill="#e5e5e5"/>
<polygon points="330.58,207.6 344.48,207.6 583.92,224.9" fill="#e5e5e5"/>
<polygon points="348.36,207.6 362.26,207.6 584.42,224.9" fill="#e5e5e5"/>
<polygon points="366.14,207.6 380.04,207.6 588.86,224.9" fill="#e5e5e5"/>
<polygon points="383.92,207.6 397.82,207.6 592.00,224.9" fill="#e5e5e5"/>
<polygon points="401.70,207.6 415.60,207.6 596.78,224.9" fill="#e5e5e5"/>
<polygon points="419.48,207.6 433.38,207.6 599.28,224.9" fill="#e5e5e5"/>
<polygon points="437.26,207.6 451.16,207.6 600.30,224.9" fill="#e5e5e5"/>
<polygon points="455.04,207.6 468.94,207.6 618.23,224.9" fill="#e5e5e5"/>
<polygon points="472.82,207.6 486.72,207.6 627.93,224.9" fill="#e5e5e5"/>
<polygon points="490.60,207.6 504.50,207.6 640.82,224.9" fill="#e5e5e5"/>
<polygon points="508.38,207.6 522.28,207.6 644.50,224.9" fill="#e5e5e5"/>
<polygon points="526.16,207.6 540.06,207.6 700.64,224.9" fill="#e5e5e5"/>
<polygon points="543.94,207.6 557.84,207.6 702.45,224.9" fill="#e5e5e5"/>
<polygon points="561.72,207.6 575.62,207.6 703.95,224.9" fill="#e5e5e5"/>
<polygon points="579.50,207.6 593.40,207.6 707.96,224.9" fill="#e5e5e5"/>
<polygon points="597.28,207.6 611.18,207.6 707.99,224.9" fill="#e5e5e5"/>
<polygon points="615.06,207.6 628.96,207.6 708.01,224.9" fill="#e5e5e5"/>
<polygon points="632.84,207.6 646.74,207.6 722.25,224.9" fill="#e5e5e5"/>
<polygon points="650.62,207.6 664.52,207.6 722.28,224.9" fill="#e5e5e5"/>
<polygon points="668.40,207.6 682.30,207.6 722.30,224.9" fill="#e5e5e5"/>
<polygon points="686.18,207.6 700.08,207.6 724.54,224.9" fill="#e5e5e5"/>
<polygon points="703.96,207.6 717.86,207.6 734.47,224.9" fill="#e5e5e5"/>
<polygon points="721.74,207.6 735.64,207.6 738.07,224.9" fill="#e5e5e5"/>
<rect x="35.5" y="224.9" width="710.80" height="16.90" fill="#e5e5e5"/>
<rect x="40.88" y="224.9" width="0.8" height="16.90" fill="#eeb0a8"/>
<rect x="56.86" y="224.9" width="0.8" height="16.90" fill="#eeb0a8"/>
<rect x="85.32" y="224.9" width="0.8" height="16.90" fill="#eeb0a8"/>
<rect x="93.47" y="224.9" width="0.8" height="16.90" fill="#eeb0a8"/>
<rect x="107.36" y="224.9" width="0.8" height="16.90" fill="#eeb0a8"/>
<rect x="112.83" y="224.9" width="0.8" height="16.90" fill="#eeb0a8"/>
<rect x="163.26" y="224.9" width="0.8" height="16.90" fill="#eeb0a8"/>
<rect x="177.48" y="224.9" width="0.8" height="16.90" fill="#eeb0a8"/>
<rect x="200.50" y="224.9" width="0.8" height="16.90" fill="#eeb0a8"/>
<rect x="377.73" y="224.9" width="0.8" height="16.90" fill="#eeb0a8"/>
<rect x="384.10" y="224.9" width="0.8" height="16.90" fill="#eeb0a8"/>
<rect x="397.44" y="224.9" width="0.8" height="16.90" fill="#eeb0a8"/>
<rect x="398.44" y="224.9" width="0.8" height="16.90" fill="#eeb0a8"/>
<rect x="419.77" y="224.9" width="0.8" height="16.90" fill="#eeb0a8"/>
<rect x="450.63" y="224.9" width="0.8" height="16.90" fill="#eeb0a8"/>
<rect x="557.63" y="224.9" width="0.8" height="16.90" fill="#eeb0a8"/>
<rect x="583.52" y="224.9" width="0.8" height="16.90" fill="#eeb0a8"/>
<rect x="584.02" y="224.9" width="0.8" height="16.90" fill="#eeb0a8"/>
<rect x="588.46" y="224.9" width="0.8" height="16.90" fill="#eeb0a8"/>
<rect x="591.60" y="224.9" width="0.8" height="16.90" fill="#eeb0a8"/>
<rect x="596.38" y="224.9" width="0.8" height="16.90" fill="#eeb0a8"/>
<rect x="598.88" y="224.9" width="0.8" height="16.90" fill="#eeb0a8"/>
<rect x="599.90" y="224.9" width="0.8" height="16.90" fill="#eeb0a8"/>
<rect x="617.83" y="224.9" width="0.8" height="16.90" fill="#eeb0a8"/>
<rect x="627.53" y="224.9" width="0.8" height="16.90" fill="#eeb0a8"/>
<rect x="640.42" y="224.9" width="0.8" height="16.90" fill="#eeb0a8"/>
<rect x="644.10" y="224.9" width="0.8" height="16.90" fill="#eeb0a8"/>
<rect x="700.24" y="224.9" width="0.8" height="16.90" fill="#eeb0a8"/>
<rect x="702.05" y="224.9" width="0.8" height="16.90" fill="#eeb0a8"/>
<rect x="703.55" y="224.9" width="0.8" height="16.90" fill="#eeb0a8"/>
<rect x="707.56" y="224.9" width="0.8" height="16.90" fill="#eeb0a8"/>
<rect x="707.59" y="224.9" width="0.8" height="16.90" fill="#eeb0a8"/>
<rect x="707.61" y="224.9" width="0.8" height="16.90" fill="#eeb0a8"/>
<rect x="721.85" y="224.9" width="0.8" height="16.90" fill="#eeb0a8"/>
<rect x="721.88" y="224.9" width="0.8" height="16.90" fill="#eeb0a8"/>
<rect x="721.90" y="224.9" width="0.8" height="16.90" fill="#eeb0a8"/>
<rect x="724.14" y="224.9" width="0.8" height="16.90" fill="#eeb0a8"/>
<rect x="734.07" y="224.9" width="0.8" height="16.90" fill="#eeb0a8"/>
<rect x="737.67" y="224.9" width="0.8" height="16.90" fill="#eeb0a8"/>
<rect x="35.00" y="238.7" width="1.1" height="3.90" fill="#333"/>
<text transform="translate(35.55,250.70) scale(0.897,1)" font-size="7.0" fill="#1a1a1a" text-anchor="middle">0</text>
<rect x="153.88" y="238.7" width="1.1" height="3.90" fill="#333"/>
<text transform="translate(154.44,250.70) scale(0.897,1)" font-size="7.0" fill="#1a1a1a" text-anchor="middle">5000</text>
<rect x="272.77" y="238.7" width="1.1" height="3.90" fill="#333"/>
<text transform="translate(273.32,250.70) scale(0.897,1)" font-size="7.0" fill="#1a1a1a" text-anchor="middle">10000</text>
<rect x="391.65" y="238.7" width="1.1" height="3.90" fill="#333"/>
<text transform="translate(392.20,250.70) scale(0.897,1)" font-size="7.0" fill="#1a1a1a" text-anchor="middle">15000</text>
<rect x="510.54" y="238.7" width="1.1" height="3.90" fill="#333"/>
<text transform="translate(511.09,250.70) scale(0.897,1)" font-size="7.0" fill="#1a1a1a" text-anchor="middle">20000</text>
<rect x="629.42" y="238.7" width="1.1" height="3.90" fill="#333"/>
<text transform="translate(629.97,250.70) scale(0.897,1)" font-size="7.0" fill="#1a1a1a" text-anchor="middle">25000</text>
<text transform="translate(392.40,259.30) scale(0.89,1)" font-size="7.0" fill="#1a1a1a" text-anchor="middle">Genome position (base)</text>
<text transform="translate(35.77,43.28) scale(0.8015,1)" font-size="7.2" fill="#1a1a1a" stroke="#1a1a1a" stroke-width="0.08" letter-spacing="0.3" text-anchor="end">Community_1</text>
<text transform="translate(35.77,60.44) scale(0.8015,1)" font-size="7.2" fill="#1a1a1a" stroke="#1a1a1a" stroke-width="0.08" letter-spacing="0.3" text-anchor="end">Community_2</text>
<text transform="translate(35.47,77.60) scale(0.7625,1)" font-size="7.2" fill="#1a1a1a" stroke="#1a1a1a" stroke-width="0.08" letter-spacing="0.3" text-anchor="end">Patient_1</text>
<text transform="translate(35.47,94.76) scale(0.7625,1)" font-size="7.2" fill="#1a1a1a" stroke="#1a1a1a" stroke-width="0.08" letter-spacing="0.3" text-anchor="end">Patient_2</text>
<text transform="translate(35.47,111.92) scale(0.7625,1)" font-size="7.2" fill="#1a1a1a" stroke="#1a1a1a" stroke-width="0.08" letter-spacing="0.3" text-anchor="end">Patient_3</text>
<text transform="translate(35.47,129.08) scale(0.7625,1)" font-size="7.2" fill="#1a1a1a" stroke="#1a1a1a" stroke-width="0.08" letter-spacing="0.3" text-anchor="end">Patient_4</text>
<text transform="translate(35.77,146.24) scale(0.8015,1)" font-size="7.2" fill="#1a1a1a" stroke="#1a1a1a" stroke-width="0.08" letter-spacing="0.3" text-anchor="end">Community_3</text>
<text transform="translate(35.47,163.40) scale(0.7625,1)" font-size="7.2" fill="#1a1a1a" stroke="#1a1a1a" stroke-width="0.08" letter-spacing="0.3" text-anchor="end">Patient_5</text>
<text transform="translate(35.47,180.56) scale(0.7625,1)" font-size="7.2" fill="#1a1a1a" stroke="#1a1a1a" stroke-width="0.08" letter-spacing="0.3" text-anchor="end">Patient_6</text>
<text transform="translate(34.97,200.85) scale(0.7690,1)" font-size="7.2" fill="#1a1a1a" stroke="#1a1a1a" stroke-width="0.08" letter-spacing="0.3" text-anchor="end">MN908947.3</text>
<g font-size="7.0" fill="#3a3a3a">
<text transform="translate(55.05,32.9) rotate(-90) scale(0.87,1)">241</text>
<text transform="translate(72.83,32.9) rotate(-90) scale(0.87,1)">913</text>
<text transform="translate(90.61,32.9) rotate(-90) scale(0.87,1)">2110</text>
<text transform="translate(108.39,32.9) rotate(-90) scale(0.87,1)">2453</text>
<text transform="translate(126.17,32.9) rotate(-90) scale(0.87,1)">3037</text>
<text transform="translate(143.95,32.9) rotate(-90) scale(0.87,1)">3267</text>
<text transform="translate(161.73,32.9) rotate(-90) scale(0.87,1)">5388</text>
<text transform="translate(179.51,32.9) rotate(-90) scale(0.87,1)">5986</text>
<text transform="translate(197.29,32.9) rotate(-90) scale(0.87,1)">6954</text>
<text transform="translate(215.07,32.9) rotate(-90) scale(0.87,1)">14408</text>
<text transform="translate(232.85,32.9) rotate(-90) scale(0.87,1)">14676</text>
<text transform="translate(250.63,32.9) rotate(-90) scale(0.87,1)">15237</text>
<text transform="translate(268.41,32.9) rotate(-90) scale(0.87,1)">15279</text>
<text transform="translate(286.19,32.9) rotate(-90) scale(0.87,1)">16176</text>
<text transform="translate(303.97,32.9) rotate(-90) scale(0.87,1)">17474</text>
<text transform="translate(321.75,32.9) rotate(-90) scale(0.87,1)">21974</text>
<text transform="translate(339.53,32.9) rotate(-90) scale(0.87,1)">23063</text>
<text transform="translate(357.31,32.9) rotate(-90) scale(0.87,1)">23084</text>
<text transform="translate(375.09,32.9) rotate(-90) scale(0.87,1)">23271</text>
<text transform="translate(392.87,32.9) rotate(-90) scale(0.87,1)">23403</text>
<text transform="translate(410.65,32.9) rotate(-90) scale(0.87,1)">23604</text>
<text transform="translate(428.43,32.9) rotate(-90) scale(0.87,1)">23709</text>
<text transform="translate(446.21,32.9) rotate(-90) scale(0.87,1)">23752</text>
<text transform="translate(463.99,32.9) rotate(-90) scale(0.87,1)">24506</text>
<text transform="translate(481.77,32.9) rotate(-90) scale(0.87,1)">24914</text>
<text transform="translate(499.55,32.9) rotate(-90) scale(0.87,1)">25456</text>
<text transform="translate(517.33,32.9) rotate(-90) scale(0.87,1)">25611</text>
<text transform="translate(535.11,32.9) rotate(-90) scale(0.87,1)">27972</text>
<text transform="translate(552.89,32.9) rotate(-90) scale(0.87,1)">28048</text>
<text transform="translate(570.67,32.9) rotate(-90) scale(0.87,1)">28111</text>
<text transform="translate(588.45,32.9) rotate(-90) scale(0.87,1)">28280</text>
<text transform="translate(606.23,32.9) rotate(-90) scale(0.87,1)">28281</text>
<text transform="translate(624.01,32.9) rotate(-90) scale(0.87,1)">28282</text>
<text transform="translate(641.79,32.9) rotate(-90) scale(0.87,1)">28881</text>
<text transform="translate(659.57,32.9) rotate(-90) scale(0.87,1)">28882</text>
<text transform="translate(677.35,32.9) rotate(-90) scale(0.87,1)">28883</text>
<text transform="translate(695.13,32.9) rotate(-90) scale(0.87,1)">28977</text>
<text transform="translate(712.91,32.9) rotate(-90) scale(0.87,1)">29395</text>
<text transform="translate(730.69,32.9) rotate(-90) scale(0.87,1)">29546</text>
</g>
<text transform="translate(752.0,32.4) rotate(-90) scale(0.96,1)" font-size="6.3" fill="#333">SNP pattern*</text>
<rect x="292.0" y="14.7" width="19.10" height="191.70" fill="none" stroke="#e83f1c" stroke-width="1.4"/>
<rect x="433.8" y="15.4" width="21.20" height="192.20" fill="none" stroke="#f39a2c" stroke-width="1.4"/>
<rect x="505.8" y="14.9" width="19.00" height="192.30" fill="none" stroke="#1f77b6" stroke-width="1.4"/>
<path d="M736.4,34.40 Q740.4,34.40 740.4,37.80 L740.4,56.65 Q740.4,59.85 744.6,59.85 Q740.4,59.85 740.4,63.05 L740.4,81.90 Q740.4,85.30 736.4,85.30" fill="none" stroke="#3b8ad0" stroke-width="0.9"/>
<path d="M736.4,85.40 Q741.3,85.40 741.3,88.80 L741.3,99.15 Q741.3,102.35 745.9,102.35 Q741.3,102.35 741.3,105.55 L741.3,115.90 Q741.3,119.30 736.4,119.30" fill="none" stroke="#3b8ad0" stroke-width="0.9"/>
<path d="M736.4,119.40 Q741.3,119.40 741.3,122.80 L741.3,141.55 Q741.3,144.75 746.2,144.75 Q741.3,144.75 741.3,147.95 L741.3,166.70 Q741.3,170.10 736.4,170.10" fill="none" stroke="#3b8ad0" stroke-width="0.9"/>
<path d="M736.4,170.40 Q741.6,170.40 741.6,173.70 L741.6,175.45 Q741.6,178.65 746.2,178.65 Q741.6,178.65 741.6,181.85 L741.6,183.60 Q741.6,186.90 736.4,186.90" fill="none" stroke="#3b8ad0" stroke-width="0.9"/>
<text transform="translate(747.8,62.15) scale(0.845,1)" font-size="7.2" font-weight="bold" xml:space="preserve"><tspan fill="#333">H, I</tspan></text>
<text transform="translate(747.8,104.65) scale(0.845,1)" font-size="7.2" font-weight="bold" xml:space="preserve"><tspan fill="#333">H, I, </tspan><tspan fill="#ee521e">J</tspan></text>
<text transform="translate(747.8,147.05) scale(0.845,1)" font-size="7.2" font-weight="bold" xml:space="preserve"><tspan fill="#333">H, I, </tspan><tspan fill="#ee521e">J</tspan><tspan fill="#333">, </tspan><tspan fill="#4a42a8">K</tspan></text>
<text transform="translate(747.8,180.95) scale(0.845,1)" font-size="7.2" font-weight="bold" xml:space="preserve"><tspan fill="#333">H, I</tspan><tspan fill="#f0842c">, J</tspan><tspan fill="#333">, </tspan><tspan fill="#4a42a8">K</tspan><tspan fill="#333">, </tspan><tspan fill="#f5a15a" dx="1.6">L</tspan></text>
</svg></body></html>
